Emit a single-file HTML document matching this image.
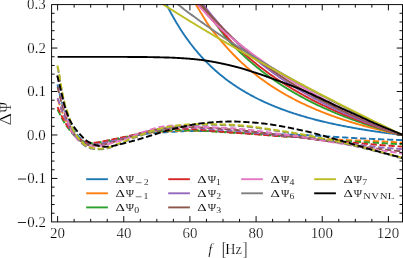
<!DOCTYPE html>
<html><head><meta charset="utf-8"><title>plot</title>
<style>
html,body{margin:0;padding:0;background:#fff;}
body{width:403px;height:258px;position:relative;overflow:hidden;font-family:"Liberation Serif",serif;color:#000;}
svg{display:block}
text{font-family:"Liberation Serif",serif;}
</style></head><body>
<svg width="403" height="258" viewBox="0 0 403 258" style="position:absolute;left:0;top:0">
<defs><clipPath id="ax"><rect x="51.6" y="4.6" width="350.9" height="217.3"/></clipPath></defs>
<rect x="0" y="0" width="403" height="258" fill="#fff"/>
<g clip-path="url(#ax)" fill="none" stroke-linejoin="round" stroke-width="1.90">
<path d="M148.6,-38.89 149.6,-36.03 150.6,-33.23 151.6,-30.49 152.6,-27.81 153.6,-25.18 154.6,-22.60 155.6,-20.08 156.6,-17.61 157.6,-15.18 158.6,-12.81 159.6,-10.48 160.6,-8.20 161.6,-5.96 162.6,-3.76 163.6,-1.61 164.6,0.50 165.6,2.57 166.6,4.60 167.6,6.59 168.6,8.55 169.6,10.47 170.6,12.35 171.6,14.20 172.6,16.02 173.6,17.80 174.6,19.55 175.6,21.27 176.6,22.95 177.6,24.61 178.6,26.24 179.6,27.84 180.6,29.41 181.6,30.95 182.6,32.47 183.6,33.96 184.6,35.42 185.6,36.86 186.6,38.28 187.6,39.67 188.6,41.04 189.6,42.38 190.6,43.70 191.6,45.01 192.6,46.28 193.6,47.54 194.6,48.78 195.6,50.00 196.6,51.19 197.6,52.37 198.6,53.53 199.6,54.67 200.6,55.80 201.6,56.90 202.6,57.99 203.6,59.06 204.6,60.11 205.6,61.15 206.6,62.17 207.6,63.18 208.6,64.17 209.6,65.14 210.6,66.10 211.6,67.05 212.6,67.98 213.6,68.90 214.6,69.80 215.6,70.70 216.6,71.57 217.6,72.44 218.6,73.29 219.6,74.13 220.6,74.96 221.6,75.77 222.6,76.58 223.6,77.37 224.6,78.15 225.6,78.92 226.6,79.68 227.6,80.43 228.6,81.17 229.6,81.89 230.6,82.61 231.6,83.32 232.6,84.02 233.6,84.70 234.6,85.38 235.6,86.05 236.6,86.71 237.6,87.37 238.6,88.01 239.6,88.64 240.6,89.27 241.6,89.89 242.6,90.49 243.6,91.10 244.6,91.69 245.6,92.27 246.6,92.85 247.6,93.42 248.6,93.99 249.6,94.54 250.6,95.09 251.6,95.63 252.6,96.17 253.6,96.70 254.6,97.22 255.6,97.73 256.6,98.24 257.6,98.74 258.6,99.24 259.6,99.73 260.6,100.21 261.6,100.69 262.6,101.16 263.6,101.63 264.6,102.09 265.6,102.54 266.6,102.99 267.6,103.43 268.6,103.87 269.6,104.31 270.6,104.73 271.6,105.16 272.6,105.57 273.6,105.99 274.6,106.40 275.6,106.80 276.6,107.20 277.6,107.59 278.6,107.98 279.6,108.37 280.6,108.75 281.6,109.12 282.6,109.50 283.6,109.86 284.6,110.23 285.6,110.59 286.6,110.94 287.6,111.29 288.6,111.64 289.6,111.98 290.6,112.32 291.6,112.66 292.6,112.99 293.6,113.32 294.6,113.65 295.6,113.97 296.6,114.28 297.6,114.60 298.6,114.91 299.6,115.22 300.6,115.52 301.6,115.82 302.6,116.12 303.6,116.42 304.6,116.71 305.6,117.00 306.6,117.28 307.6,117.56 308.6,117.84 309.6,118.12 310.6,118.39 311.6,118.67 312.6,118.93 313.6,119.20 314.6,119.46 315.6,119.72 316.6,119.98 317.6,120.23 318.6,120.49 319.6,120.73 320.6,120.98 321.6,121.23 322.6,121.47 323.6,121.71 324.6,121.94 325.6,122.18 326.6,122.41 327.6,122.64 328.6,122.87 329.6,123.10 330.6,123.32 331.6,123.54 332.6,123.76 333.6,123.98 334.6,124.19 335.6,124.40 336.6,124.62 337.6,124.82 338.6,125.03 339.6,125.24 340.6,125.44 341.6,125.64 342.6,125.84 343.6,126.04 344.6,126.23 345.6,126.42 346.6,126.62 347.6,126.81 348.6,126.99 349.6,127.18 350.6,127.36 351.6,127.55 352.6,127.73 353.6,127.91 354.6,128.09 355.6,128.26 356.6,128.44 357.6,128.61 358.6,128.78 359.6,128.95 360.6,129.12 361.6,129.29 362.6,129.45 363.6,129.62 364.6,129.78 365.6,129.94 366.6,130.10 367.6,130.26 368.6,130.41 369.6,130.57 370.6,130.72 371.6,130.88 372.6,131.03 373.6,131.18 374.6,131.33 375.6,131.47 376.6,131.62 377.6,131.76 378.6,131.91 379.6,132.05 380.6,132.19 381.6,132.33 382.6,132.47 383.6,132.61 384.6,132.74 385.6,132.88 386.6,133.01 387.6,133.15 388.6,133.28 389.6,133.41 390.6,133.54 391.6,133.67 392.6,133.80 393.6,133.92 394.6,134.05 395.6,134.17 396.6,134.30 397.6,134.42 398.6,134.54 399.6,134.66 400.6,134.78 401.6,134.90" stroke="#1f77b4"/>
<path d="M174.6,-39.04 175.6,-36.65 176.6,-34.30 177.6,-31.98 178.6,-29.71 179.6,-27.47 180.6,-25.27 181.6,-23.10 182.6,-20.97 183.6,-18.87 184.6,-16.81 185.6,-14.78 186.6,-12.77 187.6,-10.80 188.6,-8.86 189.6,-6.95 190.6,-5.07 191.6,-3.22 192.6,-1.40 193.6,0.40 194.6,2.17 195.6,3.91 196.6,5.63 197.6,7.32 198.6,8.99 199.6,10.63 200.5,12.25 201.5,13.84 202.5,15.41 203.4,16.96 204.4,18.49 205.3,20.00 206.2,21.48 207.1,22.94 208.1,24.39 209.0,25.81 210.0,27.21 211.0,28.60 212.0,29.96 213.1,31.31 214.1,32.63 215.2,33.94 216.2,35.24 217.3,36.51 218.4,37.77 219.4,39.01 220.5,40.23 221.5,41.44 222.5,42.63 223.6,43.81 224.6,44.97 225.6,46.11 226.6,47.24 227.6,48.36 228.6,49.46 229.6,50.55 230.6,51.62 231.6,52.68 232.6,53.73 233.6,54.76 234.6,55.78 235.6,56.79 236.6,57.79 237.6,58.77 238.6,59.74 239.6,60.70 240.6,61.65 241.6,62.58 242.6,63.51 243.6,64.42 244.6,65.32 245.6,66.22 246.6,67.10 247.6,67.97 248.6,68.83 249.6,69.68 250.6,70.52 251.6,71.35 252.6,72.17 253.6,72.98 254.6,73.78 255.6,74.57 256.6,75.36 257.6,76.13 258.6,76.89 259.6,77.65 260.6,78.40 261.6,79.14 262.6,79.87 263.6,80.59 264.6,81.31 265.6,82.02 266.6,82.71 267.6,83.41 268.6,84.09 269.6,84.77 270.6,85.44 271.6,86.10 272.6,86.75 273.6,87.40 274.6,88.04 275.6,88.67 276.6,89.30 277.6,89.92 278.6,90.53 279.6,91.14 280.6,91.74 281.6,92.34 282.6,92.92 283.6,93.51 284.6,94.08 285.6,94.65 286.6,95.22 287.6,95.78 288.6,96.33 289.6,96.87 290.6,97.42 291.6,97.95 292.6,98.48 293.6,99.01 294.6,99.53 295.6,100.04 296.6,100.55 297.6,101.06 298.6,101.56 299.6,102.05 300.6,102.54 301.6,103.02 302.6,103.50 303.6,103.98 304.6,104.45 305.6,104.92 306.6,105.38 307.6,105.84 308.6,106.29 309.6,106.74 310.6,107.18 311.6,107.62 312.6,108.06 313.6,108.49 314.6,108.92 315.6,109.34 316.6,109.76 317.6,110.17 318.6,110.59 319.6,110.99 320.6,111.40 321.6,111.80 322.6,112.19 323.6,112.59 324.6,112.98 325.6,113.36 326.6,113.75 327.6,114.12 328.6,114.50 329.6,114.87 330.6,115.24 331.6,115.61 332.6,115.97 333.6,116.33 334.6,116.68 335.6,117.04 336.6,117.39 337.6,117.73 338.6,118.08 339.6,118.42 340.6,118.75 341.6,119.09 342.6,119.42 343.6,119.75 344.6,120.07 345.6,120.40 346.6,120.72 347.6,121.04 348.6,121.35 349.6,121.66 350.6,121.97 351.6,122.28 352.6,122.58 353.6,122.89 354.6,123.18 355.6,123.48 356.6,123.78 357.6,124.07 358.6,124.36 359.6,124.64 360.6,124.93 361.6,125.21 362.6,125.49 363.6,125.77 364.6,126.04 365.6,126.32 366.6,126.59 367.6,126.86 368.6,127.12 369.6,127.39 370.6,127.65 371.6,127.91 372.6,128.17 373.6,128.42 374.6,128.68 375.6,128.93 376.6,129.18 377.6,129.43 378.6,129.67 379.6,129.92 380.6,130.16 381.6,130.40 382.6,130.64 383.6,130.87 384.6,131.11 385.6,131.34 386.6,131.57 387.6,131.80 388.6,132.03 389.6,132.26 390.6,132.48 391.6,132.70 392.6,132.92 393.6,133.14 394.6,133.36 395.6,133.58 396.6,133.79 397.6,134.00 398.6,134.21 399.6,134.42 400.6,134.63 401.6,134.84" stroke="#ff7f0e"/>
<path d="M176.6,-38.19 177.6,-36.13 178.6,-34.09 179.6,-32.08 180.6,-30.10 181.6,-28.14 182.6,-26.22 183.6,-24.31 184.6,-22.44 185.6,-20.59 186.6,-18.76 187.6,-16.96 188.6,-15.18 189.6,-13.43 190.6,-11.70 191.6,-9.99 192.7,-8.30 193.7,-6.63 194.8,-4.99 195.9,-3.37 197.0,-1.76 198.1,-0.18 199.2,1.38 200.2,2.92 201.2,4.45 202.2,5.95 203.1,7.44 204.1,8.91 205.1,10.36 206.1,11.79 207.2,13.21 208.3,14.60 209.4,15.99 210.5,17.35 211.6,18.70 212.7,20.03 213.8,21.35 214.8,22.65 215.8,23.94 216.7,25.21 217.7,26.47 218.6,27.71 219.4,28.94 220.3,30.15 221.2,31.35 222.1,32.54 223.0,33.71 223.9,34.87 224.8,36.02 225.8,37.15 226.7,38.28 227.7,39.39 228.7,40.48 229.6,41.57 230.6,42.64 231.6,43.71 232.6,44.76 233.6,45.80 234.6,46.82 235.6,47.84 236.6,48.85 237.6,49.84 238.6,50.83 239.6,51.80 240.6,52.77 241.6,53.72 242.6,54.67 243.6,55.60 244.6,56.53 245.6,57.44 246.6,58.35 247.6,59.25 248.6,60.14 249.6,61.02 250.6,61.89 251.6,62.75 252.6,63.60 253.6,64.45 254.6,65.28 255.6,66.11 256.6,66.93 257.6,67.74 258.6,68.55 259.6,69.34 260.6,70.13 261.6,70.91 262.6,71.69 263.6,72.45 264.6,73.21 265.6,73.96 266.6,74.71 267.6,75.45 268.6,76.18 269.6,76.90 270.6,77.62 271.6,78.33 272.6,79.03 273.6,79.73 274.6,80.42 275.6,81.10 276.6,81.78 277.6,82.45 278.6,83.12 279.6,83.78 280.6,84.43 281.6,85.08 282.6,85.73 283.6,86.36 284.6,86.99 285.6,87.62 286.6,88.24 287.6,88.85 288.6,89.46 289.6,90.07 290.6,90.66 291.6,91.26 292.6,91.85 293.6,92.43 294.6,93.01 295.6,93.58 296.6,94.15 297.6,94.71 298.6,95.27 299.6,95.82 300.6,96.37 301.6,96.92 302.6,97.46 303.6,97.99 304.6,98.53 305.6,99.05 306.6,99.57 307.6,100.09 308.6,100.61 309.6,101.12 310.6,101.62 311.6,102.12 312.6,102.62 313.6,103.11 314.6,103.60 315.6,104.09 316.6,104.57 317.6,105.05 318.6,105.52 319.6,105.99 320.6,106.46 321.6,106.92 322.6,107.38 323.6,107.84 324.6,108.29 325.6,108.74 326.6,109.18 327.6,109.62 328.6,110.06 329.6,110.49 330.6,110.93 331.6,111.35 332.6,111.78 333.6,112.20 334.6,112.62 335.6,113.03 336.6,113.45 337.6,113.85 338.6,114.26 339.6,114.66 340.6,115.06 341.6,115.46 342.6,115.85 343.6,116.24 344.6,116.63 345.6,117.02 346.6,117.40 347.6,117.78 348.6,118.16 349.6,118.53 350.6,118.90 351.6,119.27 352.6,119.64 353.6,120.00 354.6,120.36 355.6,120.72 356.6,121.08 357.6,121.43 358.6,121.78 359.6,122.13 360.6,122.47 361.6,122.82 362.6,123.16 363.6,123.50 364.6,123.83 365.6,124.17 366.6,124.50 367.6,124.83 368.6,125.15 369.6,125.48 370.6,125.80 371.6,126.12 372.6,126.44 373.6,126.76 374.6,127.07 375.6,127.38 376.6,127.69 377.6,128.00 378.6,128.30 379.6,128.61 380.6,128.91 381.6,129.21 382.6,129.50 383.6,129.80 384.6,130.09 385.6,130.38 386.6,130.67 387.6,130.96 388.6,131.25 389.6,131.53 390.6,131.81 391.6,132.09 392.6,132.37 393.6,132.65 394.6,132.92 395.6,133.20 396.6,133.47 397.6,133.74 398.6,134.00 399.6,134.27 400.6,134.53 401.6,134.80" stroke="#2ca02c"/>
<path d="M172.6,-39.64 173.6,-37.76 174.6,-35.89 175.6,-34.05 176.6,-32.23 177.6,-30.43 178.6,-28.65 179.6,-26.90 180.6,-25.17 181.6,-23.45 182.6,-21.76 183.6,-20.09 184.6,-18.44 185.6,-16.81 186.6,-15.19 187.6,-13.60 188.5,-12.02 189.5,-10.46 190.4,-8.92 191.3,-7.40 192.1,-5.89 193.0,-4.40 193.8,-2.93 194.7,-1.48 195.5,-0.04 196.4,1.39 197.4,2.79 198.4,4.19 199.5,5.56 200.6,6.92 201.8,8.27 202.9,9.60 204.1,10.92 205.3,12.23 206.4,13.52 207.6,14.80 208.7,16.06 209.8,17.31 210.9,18.55 212.1,19.77 213.2,20.99 214.3,22.18 215.3,23.37 216.4,24.55 217.4,25.71 218.4,26.86 219.4,28.00 220.3,29.13 221.2,30.25 222.2,31.36 223.1,32.45 224.0,33.54 224.9,34.61 225.9,35.67 226.8,36.73 227.7,37.77 228.7,38.80 229.7,39.83 230.7,40.84 231.6,41.84 232.6,42.84 233.6,43.82 234.6,44.80 235.6,45.77 236.6,46.72 237.6,47.67 238.6,48.61 239.6,49.54 240.6,50.47 241.6,51.38 242.6,52.29 243.6,53.19 244.6,54.08 245.6,54.96 246.6,55.83 247.6,56.70 248.6,57.56 249.6,58.41 250.6,59.25 251.6,60.09 252.6,60.92 253.6,61.74 254.6,62.55 255.6,63.36 256.6,64.16 257.6,64.95 258.6,65.74 259.6,66.52 260.6,67.29 261.6,68.06 262.6,68.82 263.6,69.58 264.6,70.32 265.6,71.07 266.6,71.80 267.6,72.53 268.6,73.25 269.6,73.97 270.6,74.68 271.6,75.39 272.6,76.09 273.6,76.78 274.6,77.47 275.6,78.16 276.6,78.83 277.6,79.51 278.6,80.17 279.6,80.83 280.6,81.49 281.6,82.14 282.6,82.79 283.6,83.43 284.6,84.07 285.6,84.70 286.6,85.32 287.6,85.95 288.6,86.56 289.6,87.18 290.6,87.78 291.6,88.39 292.6,88.98 293.6,89.58 294.6,90.17 295.6,90.75 296.6,91.33 297.6,91.91 298.6,92.48 299.6,93.05 300.6,93.61 301.6,94.17 302.6,94.73 303.6,95.28 304.6,95.83 305.6,96.37 306.6,96.91 307.6,97.44 308.6,97.98 309.6,98.50 310.6,99.03 311.6,99.55 312.6,100.06 313.6,100.58 314.6,101.09 315.6,101.59 316.6,102.09 317.6,102.59 318.6,103.09 319.6,103.58 320.6,104.07 321.6,104.55 322.6,105.03 323.6,105.51 324.6,105.99 325.6,106.46 326.6,106.93 327.6,107.39 328.6,107.86 329.6,108.31 330.6,108.77 331.6,109.22 332.6,109.67 333.6,110.12 334.6,110.56 335.6,111.01 336.6,111.44 337.6,111.88 338.6,112.31 339.6,112.74 340.6,113.17 341.6,113.59 342.6,114.01 343.6,114.43 344.6,114.85 345.6,115.26 346.6,115.67 347.6,116.08 348.6,116.48 349.6,116.89 350.6,117.29 351.6,117.68 352.6,118.08 353.6,118.47 354.6,118.86 355.6,119.25 356.6,119.63 357.6,120.02 358.6,120.40 359.6,120.78 360.6,121.15 361.6,121.52 362.6,121.90 363.6,122.26 364.6,122.63 365.6,123.00 366.6,123.36 367.6,123.72 368.6,124.08 369.6,124.43 370.6,124.78 371.6,125.14 372.6,125.49 373.6,125.83 374.6,126.18 375.6,126.52 376.6,126.86 377.6,127.20 378.6,127.54 379.6,127.87 380.6,128.21 381.6,128.54 382.6,128.87 383.6,129.19 384.6,129.52 385.6,129.84 386.6,130.16 387.6,130.48 388.6,130.80 389.6,131.12 390.6,131.43 391.6,131.74 392.6,132.06 393.6,132.36 394.6,132.67 395.6,132.98 396.6,133.28 397.6,133.58 398.6,133.88 399.6,134.18 400.6,134.48 401.6,134.77" stroke="#d62728"/>
<path d="M175.6,-38.22 176.6,-36.44 177.6,-34.67 178.6,-32.93 179.6,-31.21 180.6,-29.50 181.6,-27.82 182.6,-26.16 183.6,-24.51 184.6,-22.88 185.6,-21.27 186.6,-19.68 187.6,-18.11 188.6,-16.55 189.6,-15.01 190.6,-13.48 191.6,-11.97 192.6,-10.48 193.6,-9.01 194.6,-7.55 195.6,-6.10 196.6,-4.67 197.6,-3.26 198.6,-1.86 199.6,-0.47 200.6,0.90 201.6,2.26 202.6,3.60 203.6,4.93 204.6,6.25 205.6,7.55 206.6,8.84 207.6,10.12 208.6,11.38 209.6,12.64 210.6,13.88 211.6,15.11 212.6,16.32 213.6,17.53 214.6,18.72 215.6,19.90 216.6,21.07 217.6,22.23 218.6,23.38 219.6,24.52 220.6,25.64 221.6,26.76 222.6,27.87 223.6,28.96 224.6,30.05 225.6,31.12 226.6,32.19 227.6,33.24 228.6,34.29 229.6,35.33 230.6,36.36 231.6,37.37 232.6,38.38 233.6,39.38 234.6,40.38 235.6,41.36 236.6,42.33 237.6,43.30 238.6,44.26 239.6,45.21 240.6,46.15 241.6,47.08 242.6,48.00 243.6,48.92 244.6,49.83 245.6,50.73 246.6,51.63 247.6,52.51 248.6,53.39 249.6,54.26 250.6,55.13 251.6,55.99 252.6,56.84 253.6,57.68 254.6,58.52 255.6,59.35 256.6,60.17 257.6,60.99 258.6,61.80 259.6,62.60 260.6,63.40 261.6,64.19 262.6,64.97 263.6,65.75 264.6,66.52 265.6,67.29 266.6,68.05 267.6,68.80 268.6,69.55 269.6,70.29 270.6,71.03 271.6,71.76 272.6,72.49 273.6,73.21 274.6,73.92 275.6,74.63 276.6,75.33 277.6,76.03 278.6,76.72 279.6,77.41 280.6,78.10 281.6,78.77 282.6,79.45 283.6,80.12 284.6,80.78 285.6,81.44 286.6,82.09 287.6,82.74 288.6,83.38 289.6,84.02 290.6,84.66 291.6,85.29 292.6,85.91 293.6,86.53 294.6,87.15 295.6,87.76 296.6,88.37 297.6,88.98 298.6,89.58 299.6,90.17 300.6,90.76 301.6,91.35 302.6,91.93 303.6,92.51 304.6,93.09 305.6,93.66 306.6,94.23 307.6,94.79 308.6,95.35 309.6,95.91 310.6,96.46 311.6,97.01 312.6,97.55 313.6,98.10 314.6,98.63 315.6,99.17 316.6,99.70 317.6,100.22 318.6,100.75 319.6,101.27 320.6,101.79 321.6,102.30 322.6,102.81 323.6,103.32 324.6,103.82 325.6,104.32 326.6,104.82 327.6,105.31 328.6,105.80 329.6,106.29 330.6,106.77 331.6,107.26 332.6,107.73 333.6,108.21 334.6,108.68 335.6,109.15 336.6,109.62 337.6,110.08 338.6,110.54 339.6,111.00 340.6,111.46 341.6,111.91 342.6,112.36 343.6,112.81 344.6,113.25 345.6,113.69 346.6,114.13 347.6,114.57 348.6,115.00 349.6,115.43 350.6,115.86 351.6,116.29 352.6,116.71 353.6,117.13 354.6,117.55 355.6,117.97 356.6,118.38 357.6,118.79 358.6,119.20 359.6,119.60 360.6,120.01 361.6,120.41 362.6,120.81 363.6,121.21 364.6,121.60 365.6,121.99 366.6,122.38 367.6,122.77 368.6,123.16 369.6,123.54 370.6,123.92 371.6,124.30 372.6,124.68 373.6,125.05 374.6,125.43 375.6,125.80 376.6,126.16 377.6,126.53 378.6,126.90 379.6,127.26 380.6,127.62 381.6,127.98 382.6,128.33 383.6,128.69 384.6,129.04 385.6,129.39 386.6,129.74 387.6,130.09 388.6,130.43 389.6,130.78 390.6,131.12 391.6,131.46 392.6,131.80 393.6,132.13 394.6,132.47 395.6,132.80 396.6,133.13 397.6,133.46 398.6,133.78 399.6,134.11 400.6,134.43 401.6,134.76" stroke="#9467bd"/>
<path d="M170.6,-38.88 171.6,-37.26 172.6,-35.65 173.6,-34.06 174.6,-32.49 175.6,-30.93 176.6,-29.39 177.6,-27.86 178.6,-26.35 179.6,-24.85 180.6,-23.37 181.6,-21.90 182.6,-20.45 183.6,-19.01 184.6,-17.58 185.6,-16.17 186.6,-14.77 187.6,-13.39 188.6,-12.02 189.6,-10.66 190.6,-9.31 191.6,-7.97 192.6,-6.65 193.6,-5.34 194.6,-4.04 195.6,-2.76 196.6,-1.48 197.6,-0.22 198.6,1.03 199.6,2.27 200.6,3.50 201.6,4.72 202.6,5.93 203.6,7.13 204.6,8.31 205.6,9.49 206.6,10.66 207.6,11.82 208.6,12.96 209.6,14.10 210.6,15.23 211.6,16.35 212.6,17.45 213.6,18.55 214.6,19.64 215.6,20.73 216.6,21.80 217.6,22.86 218.6,23.92 219.6,24.96 220.6,26.00 221.6,27.03 222.6,28.05 223.6,29.07 224.6,30.07 225.6,31.07 226.6,32.06 227.6,33.04 228.6,34.01 229.6,34.98 230.6,35.94 231.6,36.89 232.6,37.84 233.6,38.77 234.6,39.70 235.6,40.62 236.6,41.54 237.6,42.45 238.6,43.35 239.6,44.25 240.6,45.14 241.6,46.02 242.6,46.89 243.6,47.76 244.6,48.63 245.6,49.48 246.6,50.33 247.6,51.18 248.6,52.01 249.6,52.85 250.6,53.67 251.6,54.49 252.6,55.31 253.6,56.12 254.6,56.92 255.6,57.72 256.6,58.51 257.6,59.30 258.6,60.08 259.6,60.85 260.6,61.62 261.6,62.39 262.6,63.15 263.6,63.90 264.6,64.65 265.6,65.39 266.6,66.13 267.6,66.87 268.6,67.60 269.6,68.32 270.6,69.04 271.6,69.76 272.6,70.47 273.6,71.17 274.6,71.87 275.6,72.57 276.6,73.26 277.6,73.95 278.6,74.63 279.6,75.31 280.6,75.98 281.6,76.65 282.6,77.32 283.6,77.98 284.6,78.64 285.6,79.29 286.6,79.94 287.6,80.59 288.6,81.23 289.6,81.86 290.6,82.50 291.6,83.13 292.6,83.75 293.6,84.37 294.6,84.99 295.6,85.60 296.6,86.21 297.6,86.82 298.6,87.42 299.6,88.02 300.6,88.62 301.6,89.21 302.6,89.80 303.6,90.38 304.6,90.96 305.6,91.54 306.6,92.12 307.6,92.69 308.6,93.26 309.6,93.82 310.6,94.38 311.6,94.94 312.6,95.50 313.6,96.05 314.6,96.60 315.6,97.14 316.6,97.68 317.6,98.22 318.6,98.76 319.6,99.29 320.6,99.82 321.6,100.35 322.6,100.87 323.6,101.40 324.6,101.91 325.6,102.43 326.6,102.94 327.6,103.45 328.6,103.96 329.6,104.46 330.6,104.97 331.6,105.46 332.6,105.96 333.6,106.45 334.6,106.94 335.6,107.43 336.6,107.92 337.6,108.40 338.6,108.88 339.6,109.36 340.6,109.83 341.6,110.31 342.6,110.78 343.6,111.24 344.6,111.71 345.6,112.17 346.6,112.63 347.6,113.09 348.6,113.55 349.6,114.00 350.6,114.45 351.6,114.90 352.6,115.35 353.6,115.79 354.6,116.23 355.6,116.67 356.6,117.11 357.6,117.54 358.6,117.98 359.6,118.41 360.6,118.84 361.6,119.26 362.6,119.69 363.6,120.11 364.6,120.53 365.6,120.95 366.6,121.36 367.6,121.78 368.6,122.19 369.6,122.60 370.6,123.01 371.6,123.41 372.6,123.82 373.6,124.22 374.6,124.62 375.6,125.02 376.6,125.41 377.6,125.81 378.6,126.20 379.6,126.59 380.6,126.98 381.6,127.37 382.6,127.75 383.6,128.13 384.6,128.52 385.6,128.89 386.6,129.27 387.6,129.65 388.6,130.02 389.6,130.40 390.6,130.77 391.6,131.14 392.6,131.50 393.6,131.87 394.6,132.23 395.6,132.59 396.6,132.96 397.6,133.31 398.6,133.67 399.6,134.03 400.6,134.38 401.6,134.73" stroke="#8c564b"/>
<path d="M161.6,-39.96 162.6,-38.54 163.6,-37.14 164.6,-35.75 165.6,-34.38 166.6,-33.01 167.6,-31.66 168.6,-30.31 169.6,-28.98 170.6,-27.66 171.6,-26.35 172.6,-25.05 173.6,-23.76 174.6,-22.48 175.6,-21.21 176.6,-19.95 177.6,-18.70 178.6,-17.46 179.6,-16.23 180.6,-15.01 181.6,-13.80 182.6,-12.60 183.6,-11.41 184.6,-10.23 185.6,-9.05 186.6,-7.89 187.6,-6.73 188.6,-5.58 189.6,-4.44 190.6,-3.31 191.6,-2.19 192.6,-1.07 193.6,0.04 194.6,1.14 195.6,2.23 196.6,3.31 197.5,4.39 198.5,5.45 199.5,6.51 200.5,7.57 201.5,8.61 202.4,9.65 203.4,10.68 204.3,11.71 205.3,12.73 206.2,13.74 207.1,14.74 208.1,15.74 209.0,16.73 209.9,17.71 210.8,18.69 211.7,19.66 212.6,20.62 213.6,21.58 214.5,22.53 215.4,23.48 216.3,24.42 217.3,25.35 218.2,26.28 219.2,27.20 220.1,28.12 221.1,29.03 222.1,29.93 223.1,30.83 224.1,31.72 225.2,32.61 226.2,33.49 227.2,34.37 228.3,35.24 229.4,36.10 230.4,36.96 231.5,37.82 232.6,38.67 233.7,39.51 234.7,40.35 235.8,41.19 236.9,42.02 238.0,42.84 239.0,43.66 240.1,44.48 241.1,45.29 242.2,46.10 243.3,46.90 244.3,47.69 245.3,48.49 246.4,49.27 247.4,50.06 248.4,50.84 249.5,51.61 250.5,52.38 251.5,53.14 252.5,53.91 253.5,54.66 254.5,55.42 255.6,56.16 256.6,56.91 257.6,57.65 258.6,58.38 259.6,59.12 260.6,59.85 261.6,60.57 262.6,61.29 263.6,62.01 264.6,62.72 265.6,63.43 266.6,64.13 267.6,64.83 268.6,65.53 269.6,66.23 270.6,66.92 271.6,67.60 272.6,68.29 273.6,68.97 274.6,69.64 275.6,70.32 276.6,70.98 277.6,71.65 278.6,72.31 279.6,72.97 280.6,73.63 281.6,74.28 282.6,74.93 283.6,75.58 284.6,76.22 285.6,76.86 286.6,77.49 287.6,78.13 288.6,78.76 289.6,79.38 290.6,80.01 291.6,80.63 292.6,81.25 293.6,81.86 294.6,82.47 295.6,83.08 296.6,83.69 297.6,84.29 298.6,84.89 299.6,85.49 300.6,86.09 301.6,86.68 302.6,87.27 303.6,87.85 304.6,88.44 305.6,89.02 306.6,89.60 307.6,90.17 308.6,90.74 309.6,91.31 310.6,91.88 311.6,92.45 312.6,93.01 313.6,93.57 314.6,94.13 315.6,94.68 316.6,95.23 317.6,95.78 318.6,96.33 319.6,96.88 320.6,97.42 321.6,97.96 322.6,98.50 323.6,99.03 324.6,99.57 325.6,100.10 326.6,100.62 327.6,101.15 328.6,101.67 329.6,102.20 330.6,102.72 331.6,103.23 332.6,103.75 333.6,104.26 334.6,104.77 335.6,105.28 336.6,105.79 337.6,106.29 338.6,106.79 339.6,107.29 340.6,107.79 341.6,108.28 342.6,108.78 343.6,109.27 344.6,109.76 345.6,110.25 346.6,110.73 347.6,111.22 348.6,111.70 349.6,112.18 350.6,112.65 351.6,113.13 352.6,113.60 353.6,114.08 354.6,114.55 355.6,115.01 356.6,115.48 357.6,115.94 358.6,116.41 359.6,116.87 360.6,117.33 361.6,117.78 362.6,118.24 363.6,118.69 364.6,119.14 365.6,119.59 366.6,120.04 367.6,120.49 368.6,120.93 369.6,121.38 370.6,121.82 371.6,122.26 372.6,122.69 373.6,123.13 374.6,123.57 375.6,124.00 376.6,124.43 377.6,124.86 378.6,125.29 379.6,125.71 380.6,126.14 381.6,126.56 382.6,126.98 383.6,127.40 384.6,127.82 385.6,128.24 386.6,128.65 387.6,129.07 388.6,129.48 389.6,129.89 390.6,130.30 391.6,130.71 392.6,131.11 393.6,131.52 394.6,131.92 395.6,132.32 396.6,132.72 397.6,133.12 398.6,133.52 399.6,133.92 400.6,134.31 401.6,134.71" stroke="#e377c2"/>
<path d="M126.6,-39.52 127.6,-38.56 128.6,-37.61 129.6,-36.66 130.6,-35.72 131.6,-34.78 132.6,-33.84 133.6,-32.91 134.6,-31.99 135.6,-31.07 136.6,-30.15 137.6,-29.24 138.6,-28.33 139.6,-27.42 140.6,-26.52 141.6,-25.63 142.6,-24.74 143.6,-23.85 144.6,-22.96 145.6,-22.08 146.6,-21.21 147.6,-20.33 148.6,-19.46 149.6,-18.60 150.6,-17.73 151.6,-16.88 152.6,-16.02 153.6,-15.17 154.6,-14.32 155.6,-13.48 156.6,-12.64 157.6,-11.80 158.6,-10.96 159.6,-10.13 160.6,-9.31 161.6,-8.48 162.6,-7.66 163.6,-6.84 164.6,-6.03 165.6,-5.22 166.6,-4.41 167.6,-3.60 168.6,-2.80 169.6,-2.00 170.6,-1.20 171.6,-0.41 172.6,0.38 173.6,1.17 174.6,1.95 175.6,2.73 176.6,3.51 177.6,4.29 178.6,5.06 179.6,5.83 180.6,6.60 181.6,7.37 182.6,8.13 183.6,8.89 184.6,9.65 185.6,10.40 186.6,11.16 187.6,11.90 188.6,12.65 189.6,13.40 190.6,14.14 191.6,14.88 192.6,15.62 193.6,16.35 194.6,17.08 195.6,17.81 196.6,18.54 197.6,19.26 198.6,19.99 199.6,20.71 200.6,21.43 201.6,22.14 202.6,22.86 203.6,23.57 204.6,24.28 205.6,24.98 206.6,25.69 207.6,26.39 208.6,27.09 209.6,27.79 210.6,28.49 211.6,29.18 212.6,29.87 213.6,30.56 214.6,31.25 215.6,31.93 216.6,32.62 217.6,33.30 218.6,33.98 219.6,34.66 220.6,35.33 221.6,36.01 222.6,36.68 223.6,37.35 224.6,38.02 225.6,38.68 226.6,39.35 227.6,40.01 228.6,40.67 229.6,41.33 230.6,41.98 231.6,42.64 232.6,43.29 233.6,43.94 234.6,44.59 235.6,45.24 236.6,45.89 237.6,46.53 238.6,47.17 239.6,47.81 240.6,48.45 241.6,49.09 242.6,49.72 243.6,50.36 244.6,50.99 245.6,51.62 246.6,52.25 247.6,52.88 248.6,53.50 249.6,54.13 250.6,54.75 251.6,55.37 252.6,55.99 253.6,56.61 254.6,57.22 255.6,57.84 256.6,58.45 257.6,59.06 258.6,59.67 259.6,60.28 260.6,60.89 261.6,61.49 262.6,62.10 263.6,62.70 264.6,63.30 265.6,63.90 266.6,64.50 267.6,65.09 268.6,65.69 269.6,66.28 270.6,66.87 271.6,67.46 272.6,68.05 273.6,68.64 274.6,69.23 275.6,69.81 276.6,70.40 277.6,70.98 278.6,71.56 279.6,72.14 280.6,72.72 281.6,73.30 282.6,73.87 283.6,74.45 284.6,75.02 285.6,75.59 286.6,76.16 287.6,76.73 288.6,77.30 289.6,77.87 290.6,78.43 291.6,79.00 292.6,79.56 293.6,80.12 294.6,80.68 295.6,81.24 296.6,81.80 297.6,82.35 298.6,82.91 299.6,83.46 300.6,84.02 301.6,84.57 302.6,85.12 303.6,85.67 304.6,86.22 305.6,86.77 306.6,87.31 307.6,87.86 308.6,88.40 309.6,88.94 310.6,89.48 311.6,90.03 312.6,90.56 313.6,91.10 314.6,91.64 315.6,92.18 316.6,92.71 317.6,93.24 318.6,93.78 319.6,94.31 320.6,94.84 321.6,95.37 322.6,95.90 323.6,96.42 324.6,96.95 325.6,97.48 326.6,98.00 327.6,98.52 328.6,99.05 329.6,99.57 330.6,100.09 331.6,100.61 332.6,101.12 333.6,101.64 334.6,102.16 335.6,102.67 336.6,103.18 337.6,103.70 338.6,104.21 339.6,104.72 340.6,105.23 341.6,105.74 342.6,106.25 343.6,106.76 344.6,107.26 345.6,107.77 346.6,108.27 347.6,108.77 348.6,109.28 349.6,109.78 350.6,110.28 351.6,110.78 352.6,111.28 353.6,111.77 354.6,112.27 355.6,112.77 356.6,113.26 357.6,113.76 358.6,114.25 359.6,114.74 360.6,115.23 361.6,115.72 362.6,116.21 363.6,116.70 364.6,117.19 365.6,117.68 366.6,118.16 367.6,118.65 368.6,119.13 369.6,119.62 370.6,120.10 371.6,120.58 372.6,121.06 373.6,121.54 374.6,122.02 375.6,122.50 376.6,122.98 377.6,123.45 378.6,123.93 379.6,124.41 380.6,124.88 381.6,125.35 382.6,125.83 383.6,126.30 384.6,126.77 385.6,127.24 386.6,127.71 387.6,128.18 388.6,128.65 389.6,129.11 390.6,129.58 391.6,130.05 392.6,130.51 393.6,130.97 394.6,131.44 395.6,131.90 396.6,132.36 397.6,132.82 398.6,133.28 399.6,133.74 400.6,134.20 401.6,134.66" stroke="#7f7f7f"/>
<path d="M99.6,-39.52 100.6,-38.77 101.6,-38.03 102.6,-37.28 103.6,-36.54 104.6,-35.80 105.6,-35.07 106.6,-34.33 107.6,-33.60 108.6,-32.87 109.6,-32.14 110.6,-31.41 111.6,-30.68 112.6,-29.96 113.6,-29.24 114.6,-28.52 115.6,-27.80 116.6,-27.09 117.6,-26.38 118.6,-25.67 119.6,-24.96 120.6,-24.25 121.6,-23.54 122.6,-22.84 123.6,-22.14 124.6,-21.44 125.6,-20.74 126.6,-20.04 127.6,-19.34 128.6,-18.65 129.6,-17.96 130.6,-17.27 131.6,-16.58 132.6,-15.89 133.6,-15.21 134.6,-14.52 135.6,-13.84 136.6,-13.16 137.6,-12.48 138.6,-11.81 139.6,-11.13 140.6,-10.46 141.6,-9.78 142.6,-9.11 143.6,-8.44 144.6,-7.77 145.6,-7.11 146.6,-6.44 147.6,-5.78 148.6,-5.11 149.6,-4.45 150.6,-3.79 151.6,-3.13 152.6,-2.48 153.6,-1.82 154.6,-1.17 155.6,-0.51 156.6,0.14 157.6,0.79 158.6,1.44 159.6,2.09 160.6,2.73 161.6,3.38 162.6,4.02 163.6,4.66 164.6,5.31 165.6,5.95 166.6,6.59 167.6,7.22 168.6,7.86 169.6,8.50 170.6,9.13 171.6,9.76 172.6,10.39 173.6,11.03 174.6,11.65 175.6,12.28 176.6,12.91 177.6,13.54 178.6,14.16 179.6,14.79 180.6,15.41 181.6,16.03 182.6,16.65 183.6,17.27 184.6,17.89 185.6,18.51 186.6,19.12 187.6,19.74 188.6,20.35 189.6,20.97 190.6,21.58 191.6,22.19 192.6,22.80 193.6,23.41 194.6,24.02 195.6,24.62 196.6,25.23 197.6,25.84 198.6,26.44 199.6,27.04 200.6,27.65 201.6,28.25 202.6,28.85 203.6,29.45 204.6,30.05 205.6,30.64 206.6,31.24 207.6,31.83 208.6,32.43 209.6,33.02 210.6,33.62 211.6,34.21 212.6,34.80 213.6,35.39 214.6,35.98 215.6,36.57 216.6,37.16 217.6,37.74 218.6,38.33 219.6,38.91 220.6,39.50 221.6,40.08 222.6,40.66 223.6,41.25 224.6,41.83 225.6,42.41 226.6,42.99 227.6,43.56 228.6,44.14 229.6,44.72 230.6,45.29 231.6,45.87 232.6,46.44 233.6,47.02 234.6,47.59 235.6,48.16 236.6,48.73 237.6,49.30 238.6,49.87 239.6,50.44 240.6,51.01 241.6,51.58 242.6,52.14 243.6,52.71 244.6,53.27 245.6,53.84 246.6,54.40 247.6,54.96 248.6,55.53 249.6,56.09 250.6,56.65 251.6,57.21 252.6,57.77 253.6,58.33 254.6,58.88 255.6,59.44 256.6,60.00 257.6,60.55 258.6,61.11 259.6,61.66 260.6,62.22 261.6,62.77 262.6,63.32 263.6,63.87 264.6,64.42 265.6,64.97 266.6,65.52 267.6,66.07 268.6,66.62 269.6,67.17 270.6,67.72 271.6,68.26 272.6,68.81 273.6,69.35 274.6,69.90 275.6,70.44 276.6,70.98 277.6,71.53 278.6,72.07 279.6,72.61 280.6,73.15 281.6,73.69 282.6,74.23 283.6,74.77 284.6,75.31 285.6,75.84 286.6,76.38 287.6,76.92 288.6,77.45 289.6,77.99 290.6,78.52 291.6,79.06 292.6,79.59 293.6,80.12 294.6,80.65 295.6,81.18 296.6,81.72 297.6,82.25 298.6,82.78 299.6,83.30 300.6,83.83 301.6,84.36 302.6,84.89 303.6,85.42 304.6,85.94 305.6,86.47 306.6,86.99 307.6,87.52 308.6,88.04 309.6,88.57 310.6,89.09 311.6,89.61 312.6,90.13 313.6,90.65 314.6,91.18 315.6,91.70 316.6,92.22 317.6,92.73 318.6,93.25 319.6,93.77 320.6,94.29 321.6,94.81 322.6,95.32 323.6,95.84 324.6,96.35 325.6,96.87 326.6,97.38 327.6,97.90 328.6,98.41 329.6,98.92 330.6,99.44 331.6,99.95 332.6,100.46 333.6,100.97 334.6,101.48 335.6,101.99 336.6,102.50 337.6,103.01 338.6,103.52 339.6,104.03 340.6,104.53 341.6,105.04 342.6,105.55 343.6,106.05 344.6,106.56 345.6,107.07 346.6,107.57 347.6,108.07 348.6,108.58 349.6,109.08 350.6,109.58 351.6,110.09 352.6,110.59 353.6,111.09 354.6,111.59 355.6,112.09 356.6,112.59 357.6,113.09 358.6,113.59 359.6,114.09 360.6,114.59 361.6,115.08 362.6,115.58 363.6,116.08 364.6,116.57 365.6,117.07 366.6,117.57 367.6,118.06 368.6,118.56 369.6,119.05 370.6,119.54 371.6,120.04 372.6,120.53 373.6,121.02 374.6,121.52 375.6,122.01 376.6,122.50 377.6,122.99 378.6,123.48 379.6,123.97 380.6,124.46 381.6,124.95 382.6,125.44 383.6,125.92 384.6,126.41 385.6,126.90 386.6,127.39 387.6,127.87 388.6,128.36 389.6,128.85 390.6,129.33 391.6,129.82 392.6,130.30 393.6,130.78 394.6,131.27 395.6,131.75 396.6,132.23 397.6,132.72 398.6,133.20 399.6,133.68 400.6,134.16 401.6,134.64" stroke="#bcbd22"/>
<path d="M57.6,56.85 58.1,56.85 58.6,56.85 59.1,56.85 59.6,56.85 60.1,56.85 60.6,56.85 61.1,56.85 61.6,56.85 62.1,56.85 62.6,56.85 63.1,56.85 63.6,56.85 64.1,56.85 64.6,56.85 65.1,56.85 65.6,56.85 66.1,56.85 66.6,56.85 67.1,56.85 67.6,56.85 68.1,56.85 68.6,56.85 69.1,56.85 69.6,56.85 70.1,56.85 70.6,56.85 71.1,56.85 71.6,56.85 72.1,56.85 72.6,56.85 73.1,56.85 73.6,56.85 74.1,56.85 74.6,56.85 75.1,56.85 75.6,56.85 76.1,56.85 76.6,56.85 77.1,56.85 77.6,56.85 78.1,56.85 78.6,56.85 79.1,56.85 79.6,56.85 80.1,56.85 80.6,56.85 81.1,56.85 81.6,56.85 82.1,56.85 82.6,56.85 83.1,56.85 83.6,56.85 84.1,56.85 84.6,56.85 85.1,56.85 85.6,56.85 86.1,56.85 86.6,56.85 87.1,56.85 87.6,56.85 88.1,56.85 88.6,56.85 89.1,56.85 89.6,56.85 90.1,56.85 90.6,56.85 91.1,56.85 91.6,56.85 92.1,56.85 92.6,56.85 93.1,56.85 93.6,56.85 94.1,56.85 94.6,56.85 95.1,56.85 95.6,56.85 96.1,56.85 96.6,56.85 97.1,56.85 97.6,56.85 98.1,56.85 98.6,56.85 99.1,56.85 99.6,56.85 100.1,56.85 100.6,56.85 101.1,56.85 101.6,56.85 102.1,56.85 102.6,56.85 103.1,56.85 103.6,56.85 104.1,56.85 104.6,56.85 105.1,56.85 105.6,56.85 106.1,56.85 106.6,56.85 107.1,56.86 107.6,56.86 108.1,56.86 108.6,56.86 109.1,56.86 109.6,56.86 110.1,56.86 110.6,56.86 111.1,56.86 111.6,56.86 112.1,56.87 112.6,56.87 113.1,56.87 113.6,56.87 114.1,56.87 114.6,56.87 115.1,56.87 115.6,56.88 116.1,56.88 116.6,56.88 117.1,56.88 117.6,56.88 118.1,56.89 118.6,56.89 119.1,56.89 119.6,56.89 120.1,56.89 120.6,56.89 121.1,56.90 121.6,56.90 122.1,56.90 122.6,56.90 123.1,56.91 123.6,56.91 124.1,56.91 124.6,56.91 125.1,56.91 125.6,56.92 126.1,56.92 126.6,56.92 127.1,56.92 127.6,56.93 128.1,56.93 128.6,56.93 129.1,56.93 129.6,56.94 130.1,56.94 130.6,56.94 131.1,56.95 131.6,56.95 132.1,56.95 132.6,56.95 133.1,56.96 133.6,56.96 134.1,56.96 134.6,56.97 135.1,56.97 135.6,56.97 136.1,56.98 136.6,56.98 137.1,56.98 137.6,56.98 138.1,56.99 138.6,56.99 139.1,56.99 139.6,57.00 140.1,57.00 140.6,57.00 141.1,57.01 141.6,57.01 142.1,57.02 142.6,57.02 143.1,57.03 143.6,57.03 144.1,57.04 144.6,57.04 145.1,57.05 145.6,57.05 146.1,57.06 146.6,57.07 147.1,57.07 147.6,57.08 148.1,57.09 148.6,57.09 149.1,57.10 149.6,57.11 150.1,57.12 150.6,57.13 151.1,57.14 151.6,57.14 152.1,57.15 152.6,57.16 153.1,57.17 153.6,57.18 154.1,57.19 154.6,57.20 155.1,57.21 155.6,57.22 156.1,57.23 156.6,57.24 157.1,57.25 157.6,57.27 158.1,57.28 158.6,57.29 159.1,57.30 159.6,57.31 160.1,57.33 160.6,57.34 161.1,57.35 161.6,57.36 162.1,57.38 162.6,57.39 163.1,57.40 163.6,57.42 164.1,57.43 164.6,57.44 165.1,57.46 165.6,57.47 166.1,57.48 166.6,57.50 167.1,57.51 167.6,57.53 168.1,57.54 168.6,57.56 169.1,57.57 169.6,57.59 170.1,57.60 170.6,57.62 171.1,57.64 171.6,57.65 172.1,57.67 172.6,57.69 173.1,57.71 173.6,57.74 174.1,57.76 174.6,57.78 175.1,57.80 175.6,57.83 176.1,57.86 176.6,57.88 177.1,57.91 177.6,57.94 178.1,57.96 178.6,57.99 179.1,58.02 179.6,58.05 180.1,58.08 180.6,58.11 181.1,58.14 181.6,58.18 182.1,58.21 182.6,58.24 183.1,58.27 183.6,58.31 184.1,58.34 184.6,58.37 185.1,58.41 185.6,58.44 186.1,58.48 186.6,58.51 187.1,58.55 187.6,58.59 188.1,58.63 188.6,58.67 189.1,58.71 189.6,58.75 190.1,58.79 190.6,58.84 191.1,58.88 191.6,58.93 192.1,58.97 192.6,59.02 193.1,59.07 193.6,59.11 194.1,59.16 194.6,59.21 195.1,59.26 195.6,59.32 196.1,59.37 196.6,59.42 197.1,59.47 197.6,59.53 198.1,59.58 198.6,59.64 199.1,59.70 199.6,59.75 200.1,59.81 200.6,59.87 201.1,59.93 201.6,60.00 202.1,60.06 202.6,60.13 203.1,60.19 203.6,60.26 204.1,60.33 204.6,60.41 205.1,60.48 205.6,60.56 206.1,60.63 206.6,60.71 207.1,60.79 207.6,60.87 208.1,60.95 208.6,61.03 209.1,61.11 209.6,61.19 210.1,61.28 210.6,61.36 211.1,61.45 211.6,61.53 212.1,61.62 212.6,61.70 213.1,61.79 213.6,61.88 214.1,61.97 214.6,62.07 215.1,62.16 215.6,62.26 216.1,62.35 216.6,62.45 217.1,62.55 217.6,62.65 218.1,62.75 218.6,62.85 219.1,62.95 219.6,63.06 220.1,63.16 220.6,63.27 221.1,63.37 221.6,63.48 222.1,63.59 222.6,63.70 223.1,63.80 223.6,63.91 224.1,64.02 224.6,64.13 225.1,64.24 225.6,64.35 226.1,64.46 226.6,64.58 227.1,64.69 227.6,64.80 228.1,64.92 228.6,65.03 229.1,65.15 229.6,65.27 230.1,65.38 230.6,65.50 231.1,65.62 231.6,65.74 232.1,65.86 232.6,65.98 233.1,66.10 233.6,66.23 234.1,66.35 234.6,66.48 235.1,66.60 235.6,66.73 236.1,66.86 236.6,66.99 237.1,67.12 237.6,67.25 238.1,67.39 238.6,67.52 239.1,67.65 239.6,67.79 240.1,67.93 240.6,68.07 241.1,68.21 241.6,68.36 242.1,68.50 242.6,68.65 243.1,68.81 243.6,68.96 244.1,69.12 244.6,69.27 245.1,69.43 245.6,69.59 246.1,69.75 246.6,69.91 247.1,70.07 247.6,70.23 248.1,70.39 248.6,70.56 249.1,70.71 249.6,70.87 250.1,71.03 250.6,71.19 251.1,71.35 251.6,71.50 252.1,71.66 252.6,71.82 253.1,71.97 253.6,72.13 254.1,72.29 254.6,72.44 255.1,72.60 255.6,72.76 256.1,72.92 256.6,73.08 257.1,73.24 257.6,73.40 258.1,73.57 258.6,73.73 259.1,73.90 259.6,74.06 260.1,74.23 260.6,74.40 261.1,74.58 261.6,74.75 262.1,74.93 262.6,75.11 263.1,75.28 263.6,75.46 264.1,75.65 264.6,75.83 265.1,76.01 265.6,76.19 266.1,76.38 266.6,76.56 267.1,76.74 267.6,76.93 268.1,77.11 268.6,77.29 269.1,77.47 269.6,77.66 270.1,77.84 270.6,78.02 271.1,78.20 271.6,78.37 272.1,78.55 272.6,78.73 273.1,78.91 273.6,79.09 274.1,79.27 274.6,79.45 275.1,79.63 275.6,79.81 276.1,79.99 276.6,80.17 277.1,80.35 277.6,80.53 278.1,80.71 278.6,80.89 279.1,81.07 279.6,81.25 280.1,81.44 280.6,81.62 281.1,81.81 281.6,81.99 282.1,82.17 282.6,82.36 283.1,82.55 283.6,82.73 284.1,82.92 284.6,83.11 285.1,83.29 285.6,83.48 286.1,83.67 286.6,83.86 287.1,84.04 287.6,84.23 288.1,84.42 288.6,84.61 289.1,84.80 289.6,84.99 290.1,85.18 290.6,85.37 291.1,85.56 291.6,85.75 292.1,85.94 292.6,86.13 293.1,86.32 293.6,86.51 294.1,86.70 294.6,86.89 295.1,87.08 295.6,87.27 296.1,87.46 296.6,87.65 297.1,87.85 297.6,88.04 298.1,88.24 298.6,88.43 299.1,88.63 299.6,88.84 300.1,89.04 300.6,89.25 301.1,89.46 301.6,89.67 302.1,89.89 302.6,90.10 303.1,90.32 303.6,90.54 304.1,90.75 304.6,90.98 305.1,91.20 305.6,91.42 306.1,91.65 306.6,91.87 307.1,92.10 307.6,92.33 308.1,92.56 308.6,92.79 309.1,93.02 309.6,93.25 310.1,93.48 310.6,93.71 311.1,93.95 311.6,94.18 312.1,94.42 312.6,94.65 313.1,94.89 313.6,95.12 314.1,95.36 314.6,95.59 315.1,95.83 315.6,96.07 316.1,96.30 316.6,96.54 317.1,96.78 317.6,97.01 318.1,97.25 318.6,97.48 319.1,97.72 319.6,97.95 320.1,98.19 320.6,98.42 321.1,98.65 321.6,98.89 322.1,99.12 322.6,99.35 323.1,99.59 323.6,99.82 324.1,100.06 324.6,100.30 325.1,100.53 325.6,100.77 326.1,101.01 326.6,101.25 327.1,101.49 327.6,101.72 328.1,101.96 328.6,102.20 329.1,102.44 329.6,102.68 330.1,102.92 330.6,103.16 331.1,103.40 331.6,103.64 332.1,103.88 332.6,104.12 333.1,104.35 333.6,104.59 334.1,104.83 334.6,105.07 335.1,105.30 335.6,105.54 336.1,105.78 336.6,106.01 337.1,106.25 337.6,106.48 338.1,106.72 338.6,106.95 339.1,107.18 339.6,107.42 340.1,107.65 340.6,107.88 341.1,108.11 341.6,108.33 342.1,108.56 342.6,108.79 343.1,109.02 343.6,109.24 344.1,109.47 344.6,109.70 345.1,109.92 345.6,110.15 346.1,110.37 346.6,110.60 347.1,110.82 347.6,111.04 348.1,111.27 348.6,111.49 349.1,111.71 349.6,111.94 350.1,112.16 350.6,112.38 351.1,112.60 351.6,112.83 352.1,113.05 352.6,113.27 353.1,113.49 353.6,113.72 354.1,113.94 354.6,114.16 355.1,114.39 355.6,114.61 356.1,114.84 356.6,115.06 357.1,115.29 357.6,115.51 358.1,115.74 358.6,115.96 359.1,116.19 359.6,116.42 360.1,116.65 360.6,116.87 361.1,117.10 361.6,117.34 362.1,117.57 362.6,117.80 363.1,118.03 363.6,118.27 364.1,118.50 364.6,118.74 365.1,118.97 365.6,119.21 366.1,119.44 366.6,119.67 367.1,119.91 367.6,120.14 368.1,120.37 368.6,120.61 369.1,120.84 369.6,121.07 370.1,121.30 370.6,121.53 371.1,121.75 371.6,121.98 372.1,122.20 372.6,122.42 373.1,122.64 373.6,122.86 374.1,123.08 374.6,123.30 375.1,123.51 375.6,123.73 376.1,123.94 376.6,124.16 377.1,124.37 377.6,124.58 378.1,124.80 378.6,125.01 379.1,125.22 379.6,125.43 380.1,125.64 380.6,125.84 381.1,126.05 381.6,126.26 382.1,126.47 382.6,126.67 383.1,126.88 383.6,127.09 384.1,127.29 384.6,127.50 385.1,127.70 385.6,127.91 386.1,128.11 386.6,128.31 387.1,128.52 387.6,128.72 388.1,128.93 388.6,129.13 389.1,129.33 389.6,129.54 390.1,129.74 390.6,129.94 391.1,130.15 391.6,130.35 392.1,130.55 392.6,130.75 393.1,130.96 393.6,131.16 394.1,131.36 394.6,131.56 395.1,131.76 395.6,131.96 396.1,132.16 396.6,132.36 397.1,132.55 397.6,132.75 398.1,132.95 398.6,133.15 399.1,133.34 399.6,133.54 400.1,133.74 400.6,133.93 401.1,134.13 401.6,134.33 402.1,134.52" stroke="#000000"/>
<path d="M57.5,84.50 58.0,86.70 58.5,88.85 59.0,90.95 59.5,93.00 60.0,95.00 60.5,96.97 61.0,98.91 61.5,100.76 62.0,102.50 62.5,104.12 63.0,105.65 63.5,107.11 64.0,108.50 64.5,109.82 65.0,111.07 65.5,112.28 66.0,113.50 66.5,114.74 67.0,115.99 67.5,117.21 68.0,118.38 68.5,119.48 69.0,120.57 69.5,121.62 70.0,122.66 70.5,123.66 71.0,124.64 71.5,125.58 72.0,126.50 72.5,127.39 73.0,128.27 73.5,129.12 74.0,129.95 74.5,130.75 75.0,131.53 75.5,132.28 76.0,133.00 76.5,133.70 77.0,134.39 77.5,135.06 78.0,135.71 78.5,136.34 79.0,136.93 79.5,137.49 80.0,138.00 80.5,138.49 81.0,138.96 81.5,139.42 82.0,139.86 82.5,140.28 83.0,140.68 83.5,141.05 84.0,141.40 84.5,141.72 85.0,142.00 85.5,142.27 86.0,142.53 86.5,142.78 87.0,143.02 87.5,143.25 88.0,143.45 88.5,143.63 89.0,143.79 89.5,143.91 90.0,144.00 90.5,144.07 91.0,144.13 91.5,144.20 92.0,144.25 92.5,144.31 93.0,144.36 93.5,144.40 94.0,144.43 94.5,144.46 95.0,144.48 95.5,144.50 96.0,144.50 96.5,144.49 97.0,144.45 97.5,144.40 98.0,144.33 98.5,144.25 99.0,144.17 99.5,144.08 100.0,144.00 100.5,143.91 101.0,143.81 101.5,143.70 102.0,143.58 102.5,143.45 103.0,143.31 103.5,143.17 104.0,143.02 104.5,142.87 105.0,142.71 105.5,142.55 106.0,142.39 106.5,142.23 107.0,142.07 107.5,141.92 108.0,141.76 108.5,141.61 109.0,141.47 109.5,141.33 110.0,141.20 110.5,141.07 111.0,140.95 111.5,140.83 112.0,140.70 112.5,140.58 113.0,140.46 113.5,140.35 114.0,140.23 114.5,140.11 115.0,139.99 115.5,139.88 116.0,139.76 116.5,139.65 117.0,139.54 117.5,139.43 118.0,139.31 118.5,139.20 119.0,139.09 119.5,138.98 120.0,138.87 120.5,138.76 121.0,138.66 121.5,138.55 122.0,138.44 122.5,138.33 123.0,138.23 123.5,138.12 124.0,138.01 124.5,137.91 125.0,137.80 125.5,137.69 126.0,137.59 126.5,137.48 127.0,137.38 127.5,137.27 128.0,137.17 128.5,137.06 129.0,136.96 129.5,136.85 130.0,136.75 130.5,136.65 131.0,136.54 131.5,136.44 132.0,136.34 132.5,136.24 133.0,136.14 133.5,136.04 134.0,135.94 134.5,135.84 135.0,135.74 135.5,135.64 136.0,135.55 136.5,135.45 137.0,135.35 137.5,135.26 138.0,135.17 138.5,135.07 139.0,134.98 139.5,134.89 140.0,134.80 140.5,134.71 141.0,134.62 141.5,134.53 142.0,134.43 142.5,134.34 143.0,134.25 143.5,134.17 144.0,134.08 144.5,134.01 145.0,133.93 145.5,133.86 146.0,133.80 146.5,133.74 147.0,133.69 147.5,133.63 148.0,133.58 148.5,133.53 149.0,133.48 149.5,133.43 150.0,133.38 150.5,133.33 151.0,133.29 151.5,133.24 152.0,133.20 152.5,133.16 153.0,133.12 153.5,133.08 154.0,133.04 154.5,133.00 155.0,132.96 155.5,132.92 156.0,132.89 156.5,132.85 157.0,132.81 157.5,132.78 158.0,132.74 158.5,132.71 159.0,132.67 159.5,132.64 160.0,132.60 160.5,132.56 161.0,132.53 161.5,132.50 162.0,132.46 162.5,132.43 163.0,132.40 163.5,132.36 164.0,132.33 164.5,132.30 165.0,132.27 165.5,132.24 166.0,132.21 166.5,132.18 167.0,132.15 167.5,132.12 168.0,132.09 168.5,132.06 169.0,132.03 169.5,132.00 170.0,131.97 170.5,131.94 171.0,131.92 171.5,131.89 172.0,131.86 172.5,131.83 173.0,131.81 173.5,131.78 174.0,131.75 174.5,131.73 175.0,131.70 175.5,131.67 176.0,131.65 176.5,131.62 177.0,131.59 177.5,131.56 178.0,131.53 178.5,131.50 179.0,131.46 179.5,131.43 180.0,131.40 180.5,131.37 181.0,131.34 181.5,131.31 182.0,131.28 182.5,131.25 183.0,131.22 183.5,131.20 184.0,131.17 184.5,131.15 185.0,131.12 185.5,131.10 186.0,131.08 186.5,131.06 187.0,131.05 187.5,131.03 188.0,131.02 188.5,131.01 189.0,131.01 189.5,131.00 190.0,131.00 190.5,131.00 191.0,131.00 191.5,131.00 192.0,131.00 192.5,131.00 193.0,131.00 193.5,131.00 194.0,131.00 194.5,131.00 195.0,131.00 195.5,131.00 196.0,131.00 196.5,131.00 197.0,131.00 197.5,131.00 198.0,131.00 198.5,131.00 199.0,131.00 199.5,131.00 200.0,131.00 200.5,131.00 201.0,131.00 201.5,131.00 202.0,131.00 202.5,131.00 203.0,131.00 203.5,131.00 204.0,131.00 204.5,131.00 205.0,131.00 205.5,131.00 206.0,131.00 206.5,131.01 207.0,131.01 207.5,131.02 208.0,131.03 208.5,131.04 209.0,131.05 209.5,131.07 210.0,131.08 210.5,131.10 211.0,131.11 211.5,131.13 212.0,131.15 212.5,131.17 213.0,131.19 213.5,131.21 214.0,131.23 214.5,131.25 215.0,131.28 215.5,131.30 216.0,131.32 216.5,131.34 217.0,131.37 217.5,131.39 218.0,131.41 218.5,131.43 219.0,131.46 219.5,131.48 220.0,131.50 220.5,131.52 221.0,131.55 221.5,131.57 222.0,131.60 222.5,131.62 223.0,131.65 223.5,131.68 224.0,131.71 224.5,131.74 225.0,131.77 225.5,131.80 226.0,131.83 226.5,131.86 227.0,131.89 227.5,131.92 228.0,131.96 228.5,131.99 229.0,132.02 229.5,132.06 230.0,132.09 230.5,132.12 231.0,132.15 231.5,132.19 232.0,132.22 232.5,132.25 233.0,132.28 233.5,132.31 234.0,132.34 234.5,132.37 235.0,132.40 235.5,132.43 236.0,132.46 236.5,132.48 237.0,132.51 237.5,132.54 238.0,132.57 238.5,132.60 239.0,132.63 239.5,132.65 240.0,132.68 240.5,132.71 241.0,132.74 241.5,132.77 242.0,132.79 242.5,132.82 243.0,132.85 243.5,132.87 244.0,132.90 244.5,132.93 245.0,132.95 245.5,132.98 246.0,133.01 246.5,133.03 247.0,133.06 247.5,133.08 248.0,133.11 248.5,133.13 249.0,133.15 249.5,133.18 250.0,133.20 250.5,133.22 251.0,133.25 251.5,133.27 252.0,133.29 252.5,133.31 253.0,133.33 253.5,133.35 254.0,133.38 254.5,133.40 255.0,133.42 255.5,133.44 256.0,133.46 256.5,133.48 257.0,133.50 257.5,133.52 258.0,133.54 258.5,133.56 259.0,133.58 259.5,133.60 260.0,133.61 260.5,133.63 261.0,133.65 261.5,133.67 262.0,133.69 262.5,133.71 263.0,133.73 263.5,133.75 264.0,133.76 264.5,133.78 265.0,133.80 265.5,133.82 266.0,133.84 266.5,133.85 267.0,133.87 267.5,133.89 268.0,133.91 268.5,133.92 269.0,133.94 269.5,133.96 270.0,133.98 270.5,133.99 271.0,134.01 271.5,134.03 272.0,134.04 272.5,134.06 273.0,134.08 273.5,134.09 274.0,134.11 274.5,134.12 275.0,134.14 275.5,134.16 276.0,134.17 276.5,134.19 277.0,134.21 277.5,134.22 278.0,134.24 278.5,134.25 279.0,134.27 279.5,134.28 280.0,134.30 280.5,134.32 281.0,134.33 281.5,134.35 282.0,134.36 282.5,134.38 283.0,134.39 283.5,134.40 284.0,134.42 284.5,134.43 285.0,134.45 285.5,134.46 286.0,134.48 286.5,134.49 287.0,134.50 287.5,134.52 288.0,134.53 288.5,134.55 289.0,134.57 289.5,134.58 290.0,134.60 290.5,134.62 291.0,134.64 291.5,134.65 292.0,134.67 292.5,134.69 293.0,134.71 293.5,134.73 294.0,134.75 294.5,134.77 295.0,134.79 295.5,134.81 296.0,134.83 296.5,134.85 297.0,134.88 297.5,134.90 298.0,134.92 298.5,134.94 299.0,134.96 299.5,134.98 300.0,135.00 300.5,135.02 301.0,135.04 301.5,135.06 302.0,135.08 302.5,135.10 303.0,135.12 303.5,135.14 304.0,135.16 304.5,135.18 305.0,135.20 305.5,135.22 306.0,135.24 306.5,135.26 307.0,135.28 307.5,135.30 308.0,135.32 308.5,135.34 309.0,135.36 309.5,135.38 310.0,135.41 310.5,135.43 311.0,135.45 311.5,135.48 312.0,135.50 312.5,135.52 313.0,135.55 313.5,135.58 314.0,135.60 314.5,135.63 315.0,135.65 315.5,135.68 316.0,135.71 316.5,135.74 317.0,135.77 317.5,135.80 318.0,135.83 318.5,135.85 319.0,135.88 319.5,135.91 320.0,135.95 320.5,135.98 321.0,136.01 321.5,136.04 322.0,136.07 322.5,136.10 323.0,136.13 323.5,136.16 324.0,136.20 324.5,136.23 325.0,136.26 325.5,136.29 326.0,136.32 326.5,136.35 327.0,136.39 327.5,136.42 328.0,136.45 328.5,136.48 329.0,136.51 329.5,136.55 330.0,136.58 330.5,136.61 331.0,136.64 331.5,136.67 332.0,136.70 332.5,136.73 333.0,136.76 333.5,136.79 334.0,136.82 334.5,136.85 335.0,136.88 335.5,136.92 336.0,136.95 336.5,136.98 337.0,137.01 337.5,137.04 338.0,137.07 338.5,137.10 339.0,137.13 339.5,137.17 340.0,137.20 340.5,137.23 341.0,137.26 341.5,137.29 342.0,137.32 342.5,137.35 343.0,137.38 343.5,137.41 344.0,137.44 344.5,137.47 345.0,137.50 345.5,137.53 346.0,137.56 346.5,137.59 347.0,137.62 347.5,137.65 348.0,137.68 348.5,137.71 349.0,137.73 349.5,137.76 350.0,137.79 350.5,137.82 351.0,137.85 351.5,137.88 352.0,137.91 352.5,137.94 353.0,137.97 353.5,138.00 354.0,138.02 354.5,138.05 355.0,138.08 355.5,138.11 356.0,138.14 356.5,138.16 357.0,138.19 357.5,138.22 358.0,138.25 358.5,138.27 359.0,138.30 359.5,138.32 360.0,138.35 360.5,138.38 361.0,138.40 361.5,138.43 362.0,138.45 362.5,138.48 363.0,138.50 363.5,138.52 364.0,138.55 364.5,138.57 365.0,138.60 365.5,138.62 366.0,138.64 366.5,138.67 367.0,138.69 367.5,138.71 368.0,138.74 368.5,138.76 369.0,138.78 369.5,138.81 370.0,138.83 370.5,138.85 371.0,138.87 371.5,138.90 372.0,138.92 372.5,138.94 373.0,138.97 373.5,138.99 374.0,139.01 374.5,139.03 375.0,139.05 375.5,139.08 376.0,139.10 376.5,139.12 377.0,139.14 377.5,139.16 378.0,139.19 378.5,139.21 379.0,139.23 379.5,139.25 380.0,139.27 380.5,139.29 381.0,139.31 381.5,139.34 382.0,139.36 382.5,139.38 383.0,139.40 383.5,139.42 384.0,139.44 384.5,139.46 385.0,139.48 385.5,139.50 386.0,139.52 386.5,139.54 387.0,139.56 387.5,139.58 388.0,139.60 388.5,139.62 389.0,139.64 389.5,139.65 390.0,139.67 390.5,139.69 391.0,139.71 391.5,139.73 392.0,139.75 392.5,139.77 393.0,139.78 393.5,139.80 394.0,139.82 394.5,139.84 395.0,139.86 395.5,139.87 396.0,139.89 396.5,139.91 397.0,139.92 397.5,139.94 398.0,139.96 398.5,139.97 399.0,139.99 399.5,140.01 400.0,140.02 400.5,140.04 401.0,140.05 401.5,140.07 402.0,140.08 402.5,140.10" stroke="#1f77b4" stroke-dasharray="6.3,2.7"/>
<path d="M57.6,99.30 58.1,100.66 58.6,102.02 59.1,103.40 59.6,104.78 60.1,106.19 60.6,107.63 61.1,109.05 61.6,110.44 62.1,111.76 62.6,113.04 63.1,114.31 63.6,115.55 64.1,116.77 64.6,117.94 65.1,119.08 65.6,120.17 66.1,121.20 66.6,122.21 67.1,123.20 67.6,124.17 68.1,125.13 68.6,126.05 69.1,126.95 69.6,127.82 70.1,128.66 70.6,129.46 71.1,130.23 71.6,130.95 72.1,131.63 72.6,132.29 73.1,132.93 73.6,133.55 74.1,134.15 74.6,134.72 75.1,135.28 75.6,135.81 76.1,136.32 76.6,136.80 77.1,137.25 77.6,137.68 78.1,138.08 78.6,138.46 79.1,138.84 79.6,139.21 80.1,139.56 80.6,139.91 81.1,140.24 81.6,140.55 82.1,140.85 82.6,141.13 83.1,141.40 83.6,141.64 84.1,141.86 84.6,142.06 85.1,142.23 85.6,142.40 86.1,142.57 86.6,142.73 87.1,142.89 87.6,143.04 88.1,143.18 88.6,143.30 89.1,143.40 89.6,143.49 90.1,143.55 90.6,143.59 91.1,143.60 91.6,143.60 92.1,143.59 92.6,143.59 93.1,143.58 93.6,143.57 94.1,143.56 94.6,143.55 95.1,143.53 95.6,143.51 96.1,143.50 96.6,143.46 97.1,143.39 97.6,143.31 98.1,143.21 98.6,143.11 99.1,142.99 99.6,142.88 100.1,142.78 100.6,142.67 101.1,142.56 101.6,142.44 102.1,142.31 102.6,142.18 103.1,142.05 103.6,141.91 104.1,141.77 104.6,141.63 105.1,141.49 105.6,141.35 106.1,141.21 106.6,141.07 107.1,140.93 107.6,140.79 108.1,140.66 108.6,140.53 109.1,140.41 109.6,140.29 110.1,140.18 110.6,140.07 111.1,139.97 111.6,139.86 112.1,139.76 112.6,139.66 113.1,139.57 113.6,139.47 114.1,139.38 114.6,139.29 115.1,139.19 115.6,139.10 116.1,139.01 116.6,138.92 117.1,138.83 117.6,138.74 118.1,138.65 118.6,138.56 119.1,138.47 119.6,138.38 120.1,138.28 120.6,138.19 121.1,138.09 121.6,138.00 122.1,137.90 122.6,137.81 123.1,137.72 123.6,137.62 124.1,137.53 124.6,137.44 125.1,137.34 125.6,137.25 126.1,137.15 126.6,137.06 127.1,136.96 127.6,136.87 128.1,136.77 128.6,136.68 129.1,136.58 129.6,136.48 130.1,136.38 130.6,136.28 131.1,136.18 131.6,136.07 132.1,135.97 132.6,135.86 133.1,135.75 133.6,135.64 134.1,135.53 134.6,135.42 135.1,135.31 135.6,135.20 136.1,135.10 136.6,134.99 137.1,134.88 137.6,134.78 138.1,134.67 138.6,134.57 139.1,134.47 139.6,134.38 140.1,134.28 140.6,134.19 141.1,134.09 141.6,133.99 142.1,133.90 142.6,133.80 143.1,133.71 143.6,133.61 144.1,133.52 144.6,133.42 145.1,133.33 145.6,133.24 146.1,133.16 146.6,133.07 147.1,132.99 147.6,132.92 148.1,132.84 148.6,132.77 149.1,132.71 149.6,132.65 150.1,132.59 150.6,132.54 151.1,132.49 151.6,132.44 152.1,132.39 152.6,132.34 153.1,132.30 153.6,132.26 154.1,132.22 154.6,132.18 155.1,132.14 155.6,132.10 156.1,132.06 156.6,132.03 157.1,131.99 157.6,131.96 158.1,131.92 158.6,131.89 159.1,131.86 159.6,131.83 160.1,131.79 160.6,131.76 161.1,131.73 161.6,131.70 162.1,131.67 162.6,131.63 163.1,131.60 163.6,131.57 164.1,131.54 164.6,131.51 165.1,131.48 165.6,131.45 166.1,131.42 166.6,131.40 167.1,131.37 167.6,131.34 168.1,131.31 168.6,131.29 169.1,131.26 169.6,131.23 170.1,131.21 170.6,131.19 171.1,131.16 171.6,131.14 172.1,131.12 172.6,131.09 173.1,131.07 173.6,131.05 174.1,131.03 174.6,131.01 175.1,131.00 175.6,130.98 176.1,130.96 176.6,130.94 177.1,130.92 177.6,130.90 178.1,130.89 178.6,130.87 179.1,130.85 179.6,130.83 180.1,130.81 180.6,130.80 181.1,130.78 181.6,130.76 182.1,130.75 182.6,130.73 183.1,130.72 183.6,130.70 184.1,130.69 184.6,130.67 185.1,130.66 185.6,130.65 186.1,130.64 186.6,130.63 187.1,130.62 187.6,130.62 188.1,130.61 188.6,130.61 189.1,130.60 189.6,130.60 190.1,130.60 190.6,130.60 191.1,130.60 191.6,130.61 192.1,130.61 192.6,130.62 193.1,130.63 193.6,130.64 194.1,130.65 194.6,130.66 195.1,130.67 195.6,130.68 196.1,130.69 196.6,130.71 197.1,130.72 197.6,130.74 198.1,130.76 198.6,130.77 199.1,130.79 199.6,130.81 200.1,130.82 200.6,130.84 201.1,130.86 201.6,130.88 202.1,130.90 202.6,130.92 203.1,130.93 203.6,130.95 204.1,130.97 204.6,130.99 205.1,131.00 205.6,131.02 206.1,131.04 206.6,131.06 207.1,131.08 207.6,131.10 208.1,131.12 208.6,131.14 209.1,131.16 209.6,131.18 210.1,131.20 210.6,131.23 211.1,131.25 211.6,131.27 212.1,131.30 212.6,131.32 213.1,131.34 213.6,131.37 214.1,131.39 214.6,131.42 215.1,131.44 215.6,131.47 216.1,131.50 216.6,131.52 217.1,131.55 217.6,131.57 218.1,131.60 218.6,131.63 219.1,131.65 219.6,131.68 220.1,131.71 220.6,131.73 221.1,131.76 221.6,131.79 222.1,131.81 222.6,131.84 223.1,131.87 223.6,131.90 224.1,131.93 224.6,131.96 225.1,131.99 225.6,132.02 226.1,132.05 226.6,132.08 227.1,132.11 227.6,132.14 228.1,132.17 228.6,132.20 229.1,132.24 229.6,132.27 230.1,132.30 230.6,132.33 231.1,132.36 231.6,132.39 232.1,132.42 232.6,132.45 233.1,132.48 233.6,132.52 234.1,132.55 234.6,132.58 235.1,132.61 235.6,132.64 236.1,132.67 236.6,132.70 237.1,132.72 237.6,132.75 238.1,132.78 238.6,132.81 239.1,132.84 239.6,132.87 240.1,132.90 240.6,132.93 241.1,132.96 241.6,132.99 242.1,133.02 242.6,133.04 243.1,133.07 243.6,133.10 244.1,133.13 244.6,133.16 245.1,133.19 245.6,133.22 246.1,133.25 246.6,133.28 247.1,133.31 247.6,133.35 248.1,133.38 248.6,133.41 249.1,133.44 249.6,133.47 250.1,133.51 250.6,133.54 251.1,133.57 251.6,133.61 252.1,133.64 252.6,133.68 253.1,133.71 253.6,133.75 254.1,133.78 254.6,133.82 255.1,133.86 255.6,133.89 256.1,133.93 256.6,133.97 257.1,134.01 257.6,134.04 258.1,134.08 258.6,134.12 259.1,134.16 259.6,134.19 260.1,134.23 260.6,134.27 261.1,134.31 261.6,134.35 262.1,134.38 262.6,134.42 263.1,134.46 263.6,134.50 264.1,134.53 264.6,134.57 265.1,134.61 265.6,134.64 266.1,134.68 266.6,134.72 267.1,134.76 267.6,134.79 268.1,134.83 268.6,134.87 269.1,134.91 269.6,134.95 270.1,134.99 270.6,135.02 271.1,135.06 271.6,135.10 272.1,135.14 272.6,135.18 273.1,135.21 273.6,135.25 274.1,135.29 274.6,135.33 275.1,135.36 275.6,135.40 276.1,135.44 276.6,135.47 277.1,135.51 277.6,135.54 278.1,135.58 278.6,135.61 279.1,135.64 279.6,135.67 280.1,135.71 280.6,135.74 281.1,135.77 281.6,135.80 282.1,135.83 282.6,135.85 283.1,135.88 283.6,135.91 284.1,135.94 284.6,135.96 285.1,135.99 285.6,136.02 286.1,136.04 286.6,136.07 287.1,136.09 287.6,136.12 288.1,136.14 288.6,136.17 289.1,136.19 289.6,136.21 290.1,136.24 290.6,136.26 291.1,136.29 291.6,136.31 292.1,136.34 292.6,136.36 293.1,136.39 293.6,136.42 294.1,136.44 294.6,136.47 295.1,136.50 295.6,136.52 296.1,136.55 296.6,136.58 297.1,136.61 297.6,136.64 298.1,136.67 298.6,136.71 299.1,136.74 299.6,136.77 300.1,136.81 300.6,136.84 301.1,136.88 301.6,136.92 302.1,136.96 302.6,137.01 303.1,137.05 303.6,137.10 304.1,137.14 304.6,137.19 305.1,137.24 305.6,137.29 306.1,137.34 306.6,137.39 307.1,137.44 307.6,137.50 308.1,137.55 308.6,137.60 309.1,137.66 309.6,137.71 310.1,137.77 310.6,137.82 311.1,137.87 311.6,137.93 312.1,137.98 312.6,138.03 313.1,138.09 313.6,138.14 314.1,138.19 314.6,138.24 315.1,138.29 315.6,138.34 316.1,138.38 316.6,138.43 317.1,138.47 317.6,138.52 318.1,138.56 318.6,138.60 319.1,138.64 319.6,138.67 320.1,138.71 320.6,138.74 321.1,138.77 321.6,138.81 322.1,138.84 322.6,138.87 323.1,138.90 323.6,138.93 324.1,138.97 324.6,139.00 325.1,139.03 325.6,139.06 326.1,139.09 326.6,139.12 327.1,139.14 327.6,139.17 328.1,139.20 328.6,139.23 329.1,139.26 329.6,139.28 330.1,139.31 330.6,139.34 331.1,139.36 331.6,139.39 332.1,139.42 332.6,139.44 333.1,139.47 333.6,139.49 334.1,139.52 334.6,139.54 335.1,139.57 335.6,139.59 336.1,139.61 336.6,139.64 337.1,139.66 337.6,139.68 338.1,139.71 338.6,139.73 339.1,139.75 339.6,139.77 340.1,139.80 340.6,139.82 341.1,139.84 341.6,139.86 342.1,139.88 342.6,139.90 343.1,139.92 343.6,139.94 344.1,139.96 344.6,139.98 345.1,140.00 345.6,140.02 346.1,140.04 346.6,140.06 347.1,140.08 347.6,140.10 348.1,140.12 348.6,140.13 349.1,140.15 349.6,140.17 350.1,140.18 350.6,140.20 351.1,140.21 351.6,140.23 352.1,140.24 352.6,140.26 353.1,140.27 353.6,140.29 354.1,140.31 354.6,140.32 355.1,140.34 355.6,140.35 356.1,140.37 356.6,140.38 357.1,140.40 357.6,140.41 358.1,140.43 358.6,140.44 359.1,140.46 359.6,140.48 360.1,140.49 360.6,140.51 361.1,140.53 361.6,140.55 362.1,140.57 362.6,140.58 363.1,140.60 363.6,140.62 364.1,140.64 364.6,140.66 365.1,140.68 365.6,140.70 366.1,140.72 366.6,140.74 367.1,140.77 367.6,140.79 368.1,140.81 368.6,140.83 369.1,140.85 369.6,140.87 370.1,140.89 370.6,140.91 371.1,140.94 371.6,140.96 372.1,140.98 372.6,141.00 373.1,141.02 373.6,141.05 374.1,141.07 374.6,141.09 375.1,141.12 375.6,141.14 376.1,141.16 376.6,141.19 377.1,141.21 377.6,141.23 378.1,141.26 378.6,141.28 379.1,141.30 379.6,141.33 380.1,141.35 380.6,141.38 381.1,141.40 381.6,141.43 382.1,141.45 382.6,141.48 383.1,141.50 383.6,141.53 384.1,141.55 384.6,141.58 385.1,141.61 385.6,141.63 386.1,141.66 386.6,141.68 387.1,141.71 387.6,141.74 388.1,141.76 388.6,141.79 389.1,141.82 389.6,141.84 390.1,141.87 390.6,141.90 391.1,141.93 391.6,141.96 392.1,141.98 392.6,142.01 393.1,142.04 393.6,142.07 394.1,142.10 394.6,142.13 395.1,142.15 395.6,142.18 396.1,142.21 396.6,142.24 397.1,142.27 397.6,142.30 398.1,142.33 398.6,142.36 399.1,142.39 399.6,142.42 400.1,142.45 400.6,142.48 401.1,142.51 401.6,142.54 402.1,142.58" stroke="#ff7f0e" stroke-dasharray="6.3,2.7"/>
<path d="M57.6,109.60 58.1,110.63 58.6,111.65 59.1,112.67 59.6,113.69 60.1,114.70 60.6,115.73 61.1,116.76 61.6,117.75 62.1,118.68 62.6,119.57 63.1,120.43 63.6,121.27 64.1,122.08 64.6,122.87 65.1,123.65 65.6,124.41 66.1,125.15 66.6,125.88 67.1,126.61 67.6,127.33 68.1,128.04 68.6,128.73 69.1,129.42 69.6,130.08 70.1,130.73 70.6,131.36 71.1,131.97 71.6,132.55 72.1,133.11 72.6,133.66 73.1,134.20 73.6,134.73 74.1,135.24 74.6,135.75 75.1,136.24 75.6,136.70 76.1,137.15 76.6,137.57 77.1,137.97 77.6,138.33 78.1,138.66 78.6,138.98 79.1,139.29 79.6,139.60 80.1,139.89 80.6,140.17 81.1,140.44 81.6,140.70 82.1,140.94 82.6,141.17 83.1,141.38 83.6,141.57 84.1,141.74 84.6,141.89 85.1,142.02 85.6,142.15 86.1,142.27 86.6,142.39 87.1,142.50 87.6,142.61 88.1,142.70 88.6,142.79 89.1,142.86 89.6,142.92 90.1,142.97 90.6,142.99 91.1,143.00 91.6,143.00 92.1,142.99 92.6,142.97 93.1,142.96 93.6,142.94 94.1,142.91 94.6,142.89 95.1,142.86 95.6,142.83 96.1,142.79 96.6,142.74 97.1,142.67 97.6,142.58 98.1,142.49 98.6,142.38 99.1,142.28 99.6,142.17 100.1,142.08 100.6,141.99 101.1,141.91 101.6,141.82 102.1,141.73 102.6,141.64 103.1,141.55 103.6,141.46 104.1,141.37 104.6,141.28 105.1,141.18 105.6,141.09 106.1,140.99 106.6,140.89 107.1,140.79 107.6,140.69 108.1,140.59 108.6,140.49 109.1,140.38 109.6,140.28 110.1,140.18 110.6,140.08 111.1,139.97 111.6,139.87 112.1,139.77 112.6,139.66 113.1,139.56 113.6,139.45 114.1,139.35 114.6,139.24 115.1,139.14 115.6,139.03 116.1,138.92 116.6,138.82 117.1,138.71 117.6,138.61 118.1,138.50 118.6,138.39 119.1,138.29 119.6,138.18 120.1,138.08 120.6,137.97 121.1,137.87 121.6,137.77 122.1,137.67 122.6,137.56 123.1,137.46 123.6,137.36 124.1,137.26 124.6,137.15 125.1,137.05 125.6,136.95 126.1,136.85 126.6,136.74 127.1,136.64 127.6,136.53 128.1,136.42 128.6,136.31 129.1,136.20 129.6,136.09 130.1,135.98 130.6,135.86 131.1,135.74 131.6,135.61 132.1,135.48 132.6,135.35 133.1,135.22 133.6,135.09 134.1,134.95 134.6,134.82 135.1,134.68 135.6,134.55 136.1,134.42 136.6,134.29 137.1,134.16 137.6,134.03 138.1,133.91 138.6,133.80 139.1,133.69 139.6,133.58 140.1,133.48 140.6,133.38 141.1,133.29 141.6,133.19 142.1,133.10 142.6,133.01 143.1,132.92 143.6,132.84 144.1,132.75 144.6,132.67 145.1,132.58 145.6,132.50 146.1,132.43 146.6,132.35 147.1,132.28 147.6,132.21 148.1,132.14 148.6,132.07 149.1,132.01 149.6,131.95 150.1,131.89 150.6,131.83 151.1,131.78 151.6,131.72 152.1,131.67 152.6,131.62 153.1,131.57 153.6,131.52 154.1,131.47 154.6,131.42 155.1,131.38 155.6,131.33 156.1,131.29 156.6,131.25 157.1,131.21 157.6,131.17 158.1,131.13 158.6,131.09 159.1,131.06 159.6,131.03 160.1,130.99 160.6,130.96 161.1,130.93 161.6,130.90 162.1,130.87 162.6,130.84 163.1,130.81 163.6,130.78 164.1,130.75 164.6,130.72 165.1,130.69 165.6,130.66 166.1,130.63 166.6,130.60 167.1,130.57 167.6,130.55 168.1,130.52 168.6,130.50 169.1,130.48 169.6,130.45 170.1,130.43 170.6,130.41 171.1,130.40 171.6,130.38 172.1,130.36 172.6,130.35 173.1,130.33 173.6,130.32 174.1,130.31 174.6,130.31 175.1,130.30 175.6,130.29 176.1,130.29 176.6,130.28 177.1,130.28 177.6,130.27 178.1,130.27 178.6,130.26 179.1,130.26 179.6,130.25 180.1,130.25 180.6,130.24 181.1,130.24 181.6,130.23 182.1,130.23 182.6,130.23 183.1,130.22 183.6,130.22 184.1,130.22 184.6,130.22 185.1,130.21 185.6,130.21 186.1,130.21 186.6,130.21 187.1,130.20 187.6,130.20 188.1,130.20 188.6,130.20 189.1,130.20 189.6,130.20 190.1,130.20 190.6,130.20 191.1,130.21 191.6,130.22 192.1,130.23 192.6,130.24 193.1,130.26 193.6,130.28 194.1,130.30 194.6,130.32 195.1,130.35 195.6,130.38 196.1,130.41 196.6,130.44 197.1,130.47 197.6,130.50 198.1,130.53 198.6,130.57 199.1,130.60 199.6,130.64 200.1,130.67 200.6,130.71 201.1,130.75 201.6,130.78 202.1,130.82 202.6,130.85 203.1,130.88 203.6,130.92 204.1,130.95 204.6,130.98 205.1,131.01 205.6,131.03 206.1,131.06 206.6,131.09 207.1,131.12 207.6,131.15 208.1,131.18 208.6,131.21 209.1,131.24 209.6,131.27 210.1,131.30 210.6,131.33 211.1,131.36 211.6,131.39 212.1,131.42 212.6,131.45 213.1,131.48 213.6,131.51 214.1,131.54 214.6,131.57 215.1,131.60 215.6,131.63 216.1,131.66 216.6,131.69 217.1,131.72 217.6,131.75 218.1,131.79 218.6,131.82 219.1,131.85 219.6,131.88 220.1,131.91 220.6,131.94 221.1,131.97 221.6,132.00 222.1,132.03 222.6,132.06 223.1,132.09 223.6,132.12 224.1,132.15 224.6,132.18 225.1,132.21 225.6,132.24 226.1,132.27 226.6,132.30 227.1,132.33 227.6,132.36 228.1,132.39 228.6,132.42 229.1,132.45 229.6,132.48 230.1,132.51 230.6,132.54 231.1,132.57 231.6,132.60 232.1,132.63 232.6,132.66 233.1,132.69 233.6,132.72 234.1,132.75 234.6,132.78 235.1,132.81 235.6,132.83 236.1,132.86 236.6,132.89 237.1,132.91 237.6,132.94 238.1,132.97 238.6,132.99 239.1,133.02 239.6,133.04 240.1,133.06 240.6,133.09 241.1,133.11 241.6,133.14 242.1,133.16 242.6,133.19 243.1,133.21 243.6,133.24 244.1,133.26 244.6,133.29 245.1,133.31 245.6,133.34 246.1,133.37 246.6,133.39 247.1,133.42 247.6,133.45 248.1,133.48 248.6,133.51 249.1,133.54 249.6,133.57 250.1,133.61 250.6,133.64 251.1,133.68 251.6,133.71 252.1,133.75 252.6,133.79 253.1,133.83 253.6,133.87 254.1,133.91 254.6,133.95 255.1,134.00 255.6,134.04 256.1,134.08 256.6,134.13 257.1,134.17 257.6,134.22 258.1,134.27 258.6,134.31 259.1,134.36 259.6,134.41 260.1,134.45 260.6,134.50 261.1,134.55 261.6,134.59 262.1,134.64 262.6,134.69 263.1,134.73 263.6,134.78 264.1,134.82 264.6,134.87 265.1,134.91 265.6,134.95 266.1,135.00 266.6,135.04 267.1,135.09 267.6,135.13 268.1,135.18 268.6,135.22 269.1,135.27 269.6,135.32 270.1,135.36 270.6,135.41 271.1,135.46 271.6,135.50 272.1,135.55 272.6,135.59 273.1,135.64 273.6,135.68 274.1,135.73 274.6,135.77 275.1,135.82 275.6,135.86 276.1,135.90 276.6,135.94 277.1,135.98 277.6,136.02 278.1,136.06 278.6,136.10 279.1,136.14 279.6,136.17 280.1,136.21 280.6,136.24 281.1,136.27 281.6,136.30 282.1,136.33 282.6,136.36 283.1,136.39 283.6,136.42 284.1,136.45 284.6,136.47 285.1,136.50 285.6,136.53 286.1,136.55 286.6,136.57 287.1,136.60 287.6,136.62 288.1,136.65 288.6,136.67 289.1,136.69 289.6,136.72 290.1,136.74 290.6,136.77 291.1,136.79 291.6,136.81 292.1,136.84 292.6,136.86 293.1,136.89 293.6,136.91 294.1,136.94 294.6,136.96 295.1,136.99 295.6,137.02 296.1,137.05 296.6,137.08 297.1,137.11 297.6,137.14 298.1,137.17 298.6,137.20 299.1,137.24 299.6,137.27 300.1,137.31 300.6,137.35 301.1,137.39 301.6,137.43 302.1,137.47 302.6,137.52 303.1,137.57 303.6,137.62 304.1,137.67 304.6,137.73 305.1,137.78 305.6,137.84 306.1,137.90 306.6,137.95 307.1,138.01 307.6,138.07 308.1,138.14 308.6,138.20 309.1,138.26 309.6,138.32 310.1,138.38 310.6,138.45 311.1,138.51 311.6,138.57 312.1,138.63 312.6,138.70 313.1,138.76 313.6,138.82 314.1,138.88 314.6,138.94 315.1,139.00 315.6,139.06 316.1,139.11 316.6,139.17 317.1,139.22 317.6,139.27 318.1,139.32 318.6,139.37 319.1,139.42 319.6,139.47 320.1,139.51 320.6,139.55 321.1,139.59 321.6,139.63 322.1,139.67 322.6,139.71 323.1,139.75 323.6,139.79 324.1,139.83 324.6,139.87 325.1,139.91 325.6,139.95 326.1,139.99 326.6,140.02 327.1,140.06 327.6,140.10 328.1,140.13 328.6,140.17 329.1,140.20 329.6,140.24 330.1,140.27 330.6,140.31 331.1,140.34 331.6,140.38 332.1,140.41 332.6,140.44 333.1,140.48 333.6,140.51 334.1,140.54 334.6,140.57 335.1,140.61 335.6,140.64 336.1,140.67 336.6,140.70 337.1,140.73 337.6,140.76 338.1,140.79 338.6,140.82 339.1,140.85 339.6,140.88 340.1,140.91 340.6,140.94 341.1,140.97 341.6,141.00 342.1,141.03 342.6,141.06 343.1,141.09 343.6,141.12 344.1,141.15 344.6,141.18 345.1,141.21 345.6,141.23 346.1,141.26 346.6,141.29 347.1,141.32 347.6,141.34 348.1,141.37 348.6,141.39 349.1,141.42 349.6,141.45 350.1,141.47 350.6,141.50 351.1,141.52 351.6,141.54 352.1,141.57 352.6,141.59 353.1,141.62 353.6,141.64 354.1,141.66 354.6,141.69 355.1,141.71 355.6,141.73 356.1,141.76 356.6,141.78 357.1,141.81 357.6,141.83 358.1,141.85 358.6,141.88 359.1,141.90 359.6,141.93 360.1,141.95 360.6,141.98 361.1,142.00 361.6,142.03 362.1,142.05 362.6,142.08 363.1,142.11 363.6,142.13 364.1,142.16 364.6,142.19 365.1,142.21 365.6,142.24 366.1,142.27 366.6,142.29 367.1,142.32 367.6,142.35 368.1,142.37 368.6,142.40 369.1,142.43 369.6,142.46 370.1,142.48 370.6,142.51 371.1,142.54 371.6,142.57 372.1,142.59 372.6,142.62 373.1,142.65 373.6,142.68 374.1,142.71 374.6,142.73 375.1,142.76 375.6,142.79 376.1,142.82 376.6,142.85 377.1,142.87 377.6,142.90 378.1,142.93 378.6,142.96 379.1,142.99 379.6,143.02 380.1,143.04 380.6,143.07 381.1,143.10 381.6,143.13 382.1,143.16 382.6,143.19 383.1,143.22 383.6,143.25 384.1,143.28 384.6,143.31 385.1,143.33 385.6,143.36 386.1,143.39 386.6,143.42 387.1,143.45 387.6,143.48 388.1,143.51 388.6,143.54 389.1,143.57 389.6,143.60 390.1,143.63 390.6,143.66 391.1,143.69 391.6,143.72 392.1,143.75 392.6,143.78 393.1,143.81 393.6,143.84 394.1,143.87 394.6,143.91 395.1,143.94 395.6,143.97 396.1,144.00 396.6,144.03 397.1,144.06 397.6,144.09 398.1,144.12 398.6,144.15 399.1,144.18 399.6,144.22 400.1,144.25 400.6,144.28 401.1,144.31 401.6,144.34 402.1,144.37" stroke="#2ca02c" stroke-dasharray="6.3,2.7"/>
<path d="M57.6,107.00 58.1,108.19 58.6,109.36 59.1,110.51 59.6,111.63 60.1,112.72 60.6,113.78 61.1,114.83 61.6,115.85 62.1,116.85 62.6,117.82 63.1,118.77 63.6,119.71 64.1,120.64 64.6,121.55 65.1,122.44 65.6,123.30 66.1,124.12 66.6,124.90 67.1,125.65 67.6,126.38 68.1,127.09 68.6,127.78 69.1,128.46 69.6,129.11 70.1,129.75 70.6,130.37 71.1,130.97 71.6,131.55 72.1,132.11 72.6,132.67 73.1,133.22 73.6,133.76 74.1,134.30 74.6,134.82 75.1,135.32 75.6,135.81 76.1,136.27 76.6,136.71 77.1,137.13 77.6,137.51 78.1,137.87 78.6,138.21 79.1,138.54 79.6,138.87 80.1,139.18 80.6,139.49 81.1,139.78 81.6,140.06 82.1,140.32 82.6,140.57 83.1,140.80 83.6,141.01 84.1,141.21 84.6,141.38 85.1,141.53 85.6,141.67 86.1,141.82 86.6,141.96 87.1,142.09 87.6,142.22 88.1,142.34 88.6,142.44 89.1,142.53 89.6,142.61 90.1,142.66 90.6,142.69 91.1,142.70 91.6,142.70 92.1,142.69 92.6,142.69 93.1,142.68 93.6,142.67 94.1,142.66 94.6,142.65 95.1,142.63 95.6,142.61 96.1,142.60 96.6,142.56 97.1,142.49 97.6,142.40 98.1,142.30 98.6,142.19 99.1,142.08 99.6,141.98 100.1,141.88 100.6,141.79 101.1,141.71 101.6,141.62 102.1,141.53 102.6,141.44 103.1,141.35 103.6,141.26 104.1,141.17 104.6,141.08 105.1,140.98 105.6,140.89 106.1,140.79 106.6,140.69 107.1,140.59 107.6,140.49 108.1,140.39 108.6,140.29 109.1,140.18 109.6,140.08 110.1,139.98 110.6,139.88 111.1,139.77 111.6,139.67 112.1,139.57 112.6,139.46 113.1,139.36 113.6,139.25 114.1,139.15 114.6,139.04 115.1,138.94 115.6,138.83 116.1,138.72 116.6,138.62 117.1,138.51 117.6,138.41 118.1,138.30 118.6,138.19 119.1,138.09 119.6,137.98 120.1,137.88 120.6,137.77 121.1,137.67 121.6,137.57 122.1,137.47 122.6,137.36 123.1,137.26 123.6,137.16 124.1,137.06 124.6,136.95 125.1,136.85 125.6,136.75 126.1,136.65 126.6,136.54 127.1,136.44 127.6,136.33 128.1,136.22 128.6,136.11 129.1,136.00 129.6,135.89 130.1,135.78 130.6,135.66 131.1,135.54 131.6,135.41 132.1,135.29 132.6,135.16 133.1,135.03 133.6,134.89 134.1,134.76 134.6,134.62 135.1,134.49 135.6,134.36 136.1,134.23 136.6,134.10 137.1,133.97 137.6,133.84 138.1,133.72 138.6,133.60 139.1,133.49 139.6,133.38 140.1,133.28 140.6,133.18 141.1,133.08 141.6,132.99 142.1,132.89 142.6,132.80 143.1,132.71 143.6,132.63 144.1,132.54 144.6,132.46 145.1,132.37 145.6,132.29 146.1,132.21 146.6,132.13 147.1,132.05 147.6,131.97 148.1,131.89 148.6,131.82 149.1,131.74 149.6,131.66 150.1,131.58 150.6,131.51 151.1,131.43 151.6,131.36 152.1,131.28 152.6,131.21 153.1,131.13 153.6,131.06 154.1,130.98 154.6,130.91 155.1,130.84 155.6,130.77 156.1,130.70 156.6,130.63 157.1,130.57 157.6,130.50 158.1,130.43 158.6,130.37 159.1,130.31 159.6,130.25 160.1,130.19 160.6,130.13 161.1,130.07 161.6,130.00 162.1,129.94 162.6,129.87 163.1,129.80 163.6,129.74 164.1,129.67 164.6,129.60 165.1,129.54 165.6,129.47 166.1,129.40 166.6,129.34 167.1,129.28 167.6,129.22 168.1,129.16 168.6,129.10 169.1,129.05 169.6,129.00 170.1,128.95 170.6,128.90 171.1,128.86 171.6,128.83 172.1,128.79 172.6,128.76 173.1,128.74 173.6,128.72 174.1,128.71 174.6,128.70 175.1,128.70 175.6,128.70 176.1,128.70 176.6,128.70 177.1,128.71 177.6,128.71 178.1,128.72 178.6,128.72 179.1,128.73 179.6,128.74 180.1,128.74 180.6,128.75 181.1,128.76 181.6,128.77 182.1,128.78 182.6,128.79 183.1,128.80 183.6,128.82 184.1,128.83 184.6,128.84 185.1,128.85 185.6,128.87 186.1,128.88 186.6,128.90 187.1,128.91 187.6,128.93 188.1,128.94 188.6,128.96 189.1,128.97 189.6,128.99 190.1,129.00 190.6,129.02 191.1,129.04 191.6,129.07 192.1,129.09 192.6,129.12 193.1,129.15 193.6,129.19 194.1,129.22 194.6,129.26 195.1,129.30 195.6,129.34 196.1,129.38 196.6,129.42 197.1,129.47 197.6,129.51 198.1,129.56 198.6,129.61 199.1,129.65 199.6,129.70 200.1,129.75 200.6,129.80 201.1,129.85 201.6,129.89 202.1,129.94 202.6,129.99 203.1,130.03 203.6,130.08 204.1,130.12 204.6,130.17 205.1,130.21 205.6,130.25 206.1,130.29 206.6,130.33 207.1,130.38 207.6,130.42 208.1,130.46 208.6,130.50 209.1,130.55 209.6,130.59 210.1,130.63 210.6,130.68 211.1,130.72 211.6,130.76 212.1,130.81 212.6,130.85 213.1,130.90 213.6,130.94 214.1,130.98 214.6,131.03 215.1,131.07 215.6,131.12 216.1,131.16 216.6,131.20 217.1,131.25 217.6,131.29 218.1,131.33 218.6,131.38 219.1,131.42 219.6,131.47 220.1,131.51 220.6,131.55 221.1,131.60 221.6,131.64 222.1,131.68 222.6,131.73 223.1,131.77 223.6,131.82 224.1,131.86 224.6,131.91 225.1,131.95 225.6,132.00 226.1,132.05 226.6,132.09 227.1,132.14 227.6,132.18 228.1,132.22 228.6,132.27 229.1,132.31 229.6,132.36 230.1,132.40 230.6,132.44 231.1,132.49 231.6,132.53 232.1,132.57 232.6,132.61 233.1,132.65 233.6,132.69 234.1,132.73 234.6,132.77 235.1,132.81 235.6,132.84 236.1,132.88 236.6,132.92 237.1,132.95 237.6,132.99 238.1,133.02 238.6,133.05 239.1,133.09 239.6,133.12 240.1,133.15 240.6,133.18 241.1,133.22 241.6,133.25 242.1,133.28 242.6,133.31 243.1,133.34 243.6,133.37 244.1,133.41 244.6,133.44 245.1,133.47 245.6,133.50 246.1,133.53 246.6,133.57 247.1,133.60 247.6,133.63 248.1,133.67 248.6,133.70 249.1,133.74 249.6,133.77 250.1,133.81 250.6,133.84 251.1,133.88 251.6,133.92 252.1,133.96 252.6,134.00 253.1,134.03 253.6,134.07 254.1,134.11 254.6,134.15 255.1,134.19 255.6,134.23 256.1,134.27 256.6,134.31 257.1,134.35 257.6,134.39 258.1,134.44 258.6,134.48 259.1,134.52 259.6,134.56 260.1,134.60 260.6,134.64 261.1,134.68 261.6,134.72 262.1,134.76 262.6,134.81 263.1,134.85 263.6,134.89 264.1,134.93 264.6,134.97 265.1,135.01 265.6,135.05 266.1,135.09 266.6,135.13 267.1,135.17 267.6,135.21 268.1,135.25 268.6,135.30 269.1,135.34 269.6,135.38 270.1,135.42 270.6,135.46 271.1,135.50 271.6,135.55 272.1,135.59 272.6,135.63 273.1,135.67 273.6,135.71 274.1,135.75 274.6,135.79 275.1,135.83 275.6,135.87 276.1,135.91 276.6,135.95 277.1,135.99 277.6,136.03 278.1,136.06 278.6,136.10 279.1,136.14 279.6,136.17 280.1,136.21 280.6,136.24 281.1,136.27 281.6,136.31 282.1,136.34 282.6,136.37 283.1,136.40 283.6,136.43 284.1,136.46 284.6,136.48 285.1,136.51 285.6,136.54 286.1,136.57 286.6,136.59 287.1,136.62 287.6,136.64 288.1,136.67 288.6,136.70 289.1,136.72 289.6,136.75 290.1,136.78 290.6,136.80 291.1,136.83 291.6,136.85 292.1,136.88 292.6,136.91 293.1,136.94 293.6,136.97 294.1,137.00 294.6,137.02 295.1,137.06 295.6,137.09 296.1,137.12 296.6,137.15 297.1,137.18 297.6,137.22 298.1,137.25 298.6,137.29 299.1,137.33 299.6,137.37 300.1,137.41 300.6,137.45 301.1,137.50 301.6,137.54 302.1,137.59 302.6,137.65 303.1,137.70 303.6,137.76 304.1,137.81 304.6,137.87 305.1,137.94 305.6,138.00 306.1,138.06 306.6,138.13 307.1,138.20 307.6,138.26 308.1,138.33 308.6,138.40 309.1,138.47 309.6,138.54 310.1,138.61 310.6,138.68 311.1,138.76 311.6,138.83 312.1,138.90 312.6,138.97 313.1,139.04 313.6,139.11 314.1,139.18 314.6,139.25 315.1,139.31 315.6,139.38 316.1,139.45 316.6,139.51 317.1,139.57 317.6,139.63 318.1,139.69 318.6,139.75 319.1,139.81 319.6,139.86 320.1,139.91 320.6,139.96 321.1,140.01 321.6,140.06 322.1,140.11 322.6,140.15 323.1,140.20 323.6,140.25 324.1,140.29 324.6,140.34 325.1,140.38 325.6,140.43 326.1,140.47 326.6,140.51 327.1,140.56 327.6,140.60 328.1,140.64 328.6,140.68 329.1,140.72 329.6,140.76 330.1,140.80 330.6,140.84 331.1,140.88 331.6,140.92 332.1,140.96 332.6,141.00 333.1,141.04 333.6,141.08 334.1,141.12 334.6,141.16 335.1,141.20 335.6,141.24 336.1,141.28 336.6,141.32 337.1,141.36 337.6,141.40 338.1,141.44 338.6,141.47 339.1,141.51 339.6,141.55 340.1,141.59 340.6,141.63 341.1,141.67 341.6,141.71 342.1,141.76 342.6,141.80 343.1,141.84 343.6,141.88 344.1,141.92 344.6,141.97 345.1,142.01 345.6,142.05 346.1,142.10 346.6,142.14 347.1,142.18 347.6,142.23 348.1,142.27 348.6,142.32 349.1,142.36 349.6,142.41 350.1,142.45 350.6,142.50 351.1,142.54 351.6,142.59 352.1,142.63 352.6,142.68 353.1,142.72 353.6,142.77 354.1,142.81 354.6,142.86 355.1,142.91 355.6,142.95 356.1,143.00 356.6,143.04 357.1,143.09 357.6,143.13 358.1,143.17 358.6,143.22 359.1,143.26 359.6,143.31 360.1,143.35 360.6,143.39 361.1,143.44 361.6,143.48 362.1,143.52 362.6,143.57 363.1,143.61 363.6,143.65 364.1,143.69 364.6,143.73 365.1,143.78 365.6,143.82 366.1,143.86 366.6,143.90 367.1,143.94 367.6,143.98 368.1,144.03 368.6,144.07 369.1,144.11 369.6,144.15 370.1,144.19 370.6,144.23 371.1,144.27 371.6,144.31 372.1,144.36 372.6,144.40 373.1,144.44 373.6,144.48 374.1,144.52 374.6,144.56 375.1,144.60 375.6,144.64 376.1,144.68 376.6,144.72 377.1,144.76 377.6,144.80 378.1,144.84 378.6,144.88 379.1,144.92 379.6,144.96 380.1,145.00 380.6,145.04 381.1,145.08 381.6,145.12 382.1,145.16 382.6,145.20 383.1,145.24 383.6,145.28 384.1,145.32 384.6,145.36 385.1,145.40 385.6,145.44 386.1,145.48 386.6,145.51 387.1,145.55 387.6,145.59 388.1,145.63 388.6,145.67 389.1,145.71 389.6,145.75 390.1,145.78 390.6,145.82 391.1,145.86 391.6,145.90 392.1,145.94 392.6,145.97 393.1,146.01 393.6,146.05 394.1,146.09 394.6,146.12 395.1,146.16 395.6,146.20 396.1,146.23 396.6,146.27 397.1,146.31 397.6,146.35 398.1,146.38 398.6,146.42 399.1,146.45 399.6,146.49 400.1,146.53 400.6,146.56 401.1,146.60 401.6,146.64 402.1,146.67" stroke="#d62728" stroke-dasharray="6.3,2.7"/>
<path d="M57.6,98.00 58.1,99.49 58.6,100.97 59.1,102.43 59.6,103.86 60.1,105.28 60.6,106.70 61.1,108.09 61.6,109.45 62.1,110.76 62.6,112.02 63.1,113.27 63.6,114.49 64.1,115.69 64.6,116.86 65.1,118.00 65.6,119.12 66.1,120.22 66.6,121.29 67.1,122.35 67.6,123.39 68.1,124.41 68.6,125.40 69.1,126.36 69.6,127.28 70.1,128.18 70.6,129.05 71.1,129.92 71.6,130.78 72.1,131.62 72.6,132.43 73.1,133.21 73.6,133.95 74.1,134.66 74.6,135.31 75.1,135.92 75.6,136.49 76.1,137.04 76.6,137.56 77.1,138.06 77.6,138.54 78.1,138.99 78.6,139.42 79.1,139.83 79.6,140.21 80.1,140.57 80.6,140.92 81.1,141.26 81.6,141.60 82.1,141.93 82.6,142.24 83.1,142.54 83.6,142.82 84.1,143.08 84.6,143.31 85.1,143.51 85.6,143.69 86.1,143.83 86.6,143.95 87.1,144.08 87.6,144.20 88.1,144.31 88.6,144.41 89.1,144.51 89.6,144.60 90.1,144.67 90.6,144.73 91.1,144.77 91.6,144.79 92.1,144.80 92.6,144.79 93.1,144.77 93.6,144.73 94.1,144.69 94.6,144.65 95.1,144.60 95.6,144.54 96.1,144.49 96.6,144.43 97.1,144.35 97.6,144.26 98.1,144.17 98.6,144.07 99.1,143.97 99.6,143.87 100.1,143.78 100.6,143.69 101.1,143.61 101.6,143.52 102.1,143.43 102.6,143.35 103.1,143.26 103.6,143.17 104.1,143.07 104.6,142.98 105.1,142.88 105.6,142.78 106.1,142.68 106.6,142.57 107.1,142.46 107.6,142.35 108.1,142.24 108.6,142.13 109.1,142.01 109.6,141.89 110.1,141.78 110.6,141.66 111.1,141.53 111.6,141.41 112.1,141.28 112.6,141.15 113.1,141.02 113.6,140.88 114.1,140.75 114.6,140.62 115.1,140.49 115.6,140.36 116.1,140.23 116.6,140.10 117.1,139.98 117.6,139.85 118.1,139.73 118.6,139.62 119.1,139.50 119.6,139.39 120.1,139.27 120.6,139.16 121.1,139.05 121.6,138.93 122.1,138.82 122.6,138.70 123.1,138.58 123.6,138.46 124.1,138.33 124.6,138.21 125.1,138.07 125.6,137.94 126.1,137.80 126.6,137.65 127.1,137.50 127.6,137.35 128.1,137.20 128.6,137.04 129.1,136.89 129.6,136.73 130.1,136.58 130.6,136.42 131.1,136.27 131.6,136.12 132.1,135.97 132.6,135.82 133.1,135.68 133.6,135.53 134.1,135.38 134.6,135.23 135.1,135.09 135.6,134.94 136.1,134.80 136.6,134.65 137.1,134.51 137.6,134.36 138.1,134.22 138.6,134.08 139.1,133.94 139.6,133.81 140.1,133.67 140.6,133.54 141.1,133.40 141.6,133.27 142.1,133.13 142.6,133.00 143.1,132.87 143.6,132.73 144.1,132.60 144.6,132.47 145.1,132.34 145.6,132.21 146.1,132.09 146.6,131.97 147.1,131.84 147.6,131.73 148.1,131.61 148.6,131.50 149.1,131.39 149.6,131.28 150.1,131.18 150.6,131.08 151.1,130.98 151.6,130.89 152.1,130.79 152.6,130.70 153.1,130.61 153.6,130.52 154.1,130.43 154.6,130.35 155.1,130.26 155.6,130.18 156.1,130.10 156.6,130.02 157.1,129.94 157.6,129.86 158.1,129.78 158.6,129.71 159.1,129.63 159.6,129.56 160.1,129.49 160.6,129.41 161.1,129.33 161.6,129.25 162.1,129.17 162.6,129.09 163.1,129.01 163.6,128.93 164.1,128.84 164.6,128.76 165.1,128.68 165.6,128.60 166.1,128.52 166.6,128.44 167.1,128.36 167.6,128.28 168.1,128.21 168.6,128.14 169.1,128.07 169.6,128.01 170.1,127.95 170.6,127.89 171.1,127.84 171.6,127.79 172.1,127.74 172.6,127.70 173.1,127.67 173.6,127.64 174.1,127.62 174.6,127.61 175.1,127.60 175.6,127.59 176.1,127.59 176.6,127.58 177.1,127.57 177.6,127.57 178.1,127.56 178.6,127.56 179.1,127.55 179.6,127.55 180.1,127.55 180.6,127.54 181.1,127.54 181.6,127.53 182.1,127.53 182.6,127.53 183.1,127.52 183.6,127.52 184.1,127.52 184.6,127.51 185.1,127.51 185.6,127.51 186.1,127.51 186.6,127.51 187.1,127.50 187.6,127.50 188.1,127.50 188.6,127.50 189.1,127.50 189.6,127.50 190.1,127.50 190.6,127.50 191.1,127.51 191.6,127.52 192.1,127.54 192.6,127.56 193.1,127.58 193.6,127.61 194.1,127.64 194.6,127.67 195.1,127.70 195.6,127.74 196.1,127.78 196.6,127.82 197.1,127.87 197.6,127.91 198.1,127.96 198.6,128.00 199.1,128.05 199.6,128.10 200.1,128.15 200.6,128.20 201.1,128.25 201.6,128.29 202.1,128.34 202.6,128.39 203.1,128.44 203.6,128.48 204.1,128.53 204.6,128.57 205.1,128.61 205.6,128.65 206.1,128.69 206.6,128.73 207.1,128.77 207.6,128.82 208.1,128.86 208.6,128.91 209.1,128.95 209.6,129.00 210.1,129.04 210.6,129.09 211.1,129.14 211.6,129.18 212.1,129.23 212.6,129.28 213.1,129.32 213.6,129.37 214.1,129.41 214.6,129.46 215.1,129.50 215.6,129.55 216.1,129.59 216.6,129.63 217.1,129.68 217.6,129.72 218.1,129.76 218.6,129.80 219.1,129.83 219.6,129.87 220.1,129.91 220.6,129.94 221.1,129.98 221.6,130.01 222.1,130.04 222.6,130.07 223.1,130.10 223.6,130.13 224.1,130.16 224.6,130.19 225.1,130.21 225.6,130.24 226.1,130.27 226.6,130.29 227.1,130.32 227.6,130.35 228.1,130.37 228.6,130.40 229.1,130.43 229.6,130.46 230.1,130.48 230.6,130.51 231.1,130.54 231.6,130.57 232.1,130.60 232.6,130.63 233.1,130.67 233.6,130.70 234.1,130.73 234.6,130.77 235.1,130.81 235.6,130.85 236.1,130.89 236.6,130.93 237.1,130.97 237.6,131.02 238.1,131.06 238.6,131.11 239.1,131.16 239.6,131.20 240.1,131.25 240.6,131.31 241.1,131.36 241.6,131.41 242.1,131.46 242.6,131.51 243.1,131.57 243.6,131.62 244.1,131.67 244.6,131.73 245.1,131.78 245.6,131.84 246.1,131.89 246.6,131.95 247.1,132.00 247.6,132.05 248.1,132.10 248.6,132.16 249.1,132.21 249.6,132.26 250.1,132.31 250.6,132.36 251.1,132.41 251.6,132.46 252.1,132.51 252.6,132.56 253.1,132.61 253.6,132.66 254.1,132.70 254.6,132.75 255.1,132.80 255.6,132.85 256.1,132.90 256.6,132.95 257.1,133.00 257.6,133.05 258.1,133.10 258.6,133.15 259.1,133.20 259.6,133.25 260.1,133.30 260.6,133.35 261.1,133.40 261.6,133.45 262.1,133.50 262.6,133.55 263.1,133.60 263.6,133.65 264.1,133.71 264.6,133.76 265.1,133.81 265.6,133.86 266.1,133.92 266.6,133.97 267.1,134.03 267.6,134.09 268.1,134.14 268.6,134.20 269.1,134.26 269.6,134.32 270.1,134.38 270.6,134.44 271.1,134.49 271.6,134.55 272.1,134.61 272.6,134.67 273.1,134.73 273.6,134.79 274.1,134.85 274.6,134.91 275.1,134.96 275.6,135.02 276.1,135.08 276.6,135.14 277.1,135.19 277.6,135.25 278.1,135.30 278.6,135.35 279.1,135.41 279.6,135.46 280.1,135.51 280.6,135.56 281.1,135.61 281.6,135.66 282.1,135.70 282.6,135.75 283.1,135.80 283.6,135.84 284.1,135.88 284.6,135.93 285.1,135.97 285.6,136.01 286.1,136.06 286.6,136.10 287.1,136.14 287.6,136.18 288.1,136.22 288.6,136.26 289.1,136.30 289.6,136.35 290.1,136.39 290.6,136.43 291.1,136.47 291.6,136.51 292.1,136.55 292.6,136.60 293.1,136.64 293.6,136.68 294.1,136.72 294.6,136.77 295.1,136.81 295.6,136.86 296.1,136.91 296.6,136.95 297.1,137.00 297.6,137.05 298.1,137.10 298.6,137.15 299.1,137.20 299.6,137.26 300.1,137.31 300.6,137.37 301.1,137.42 301.6,137.48 302.1,137.55 302.6,137.61 303.1,137.67 303.6,137.74 304.1,137.81 304.6,137.87 305.1,137.94 305.6,138.01 306.1,138.08 306.6,138.16 307.1,138.23 307.6,138.30 308.1,138.38 308.6,138.45 309.1,138.53 309.6,138.60 310.1,138.68 310.6,138.75 311.1,138.83 311.6,138.90 312.1,138.98 312.6,139.06 313.1,139.13 313.6,139.21 314.1,139.28 314.6,139.35 315.1,139.43 315.6,139.50 316.1,139.57 316.6,139.64 317.1,139.71 317.6,139.78 318.1,139.85 318.6,139.92 319.1,139.99 319.6,140.05 320.1,140.11 320.6,140.17 321.1,140.24 321.6,140.30 322.1,140.36 322.6,140.42 323.1,140.47 323.6,140.53 324.1,140.59 324.6,140.65 325.1,140.70 325.6,140.76 326.1,140.81 326.6,140.87 327.1,140.92 327.6,140.98 328.1,141.03 328.6,141.09 329.1,141.14 329.6,141.19 330.1,141.25 330.6,141.30 331.1,141.35 331.6,141.41 332.1,141.46 332.6,141.51 333.1,141.56 333.6,141.62 334.1,141.67 334.6,141.72 335.1,141.78 335.6,141.83 336.1,141.88 336.6,141.94 337.1,141.99 337.6,142.04 338.1,142.10 338.6,142.15 339.1,142.21 339.6,142.26 340.1,142.32 340.6,142.38 341.1,142.43 341.6,142.49 342.1,142.55 342.6,142.61 343.1,142.67 343.6,142.73 344.1,142.79 344.6,142.85 345.1,142.91 345.6,142.98 346.1,143.04 346.6,143.11 347.1,143.17 347.6,143.24 348.1,143.31 348.6,143.38 349.1,143.45 349.6,143.52 350.1,143.59 350.6,143.67 351.1,143.74 351.6,143.81 352.1,143.89 352.6,143.96 353.1,144.04 353.6,144.11 354.1,144.18 354.6,144.26 355.1,144.33 355.6,144.40 356.1,144.48 356.6,144.55 357.1,144.62 357.6,144.69 358.1,144.76 358.6,144.83 359.1,144.90 359.6,144.97 360.1,145.04 360.6,145.10 361.1,145.17 361.6,145.23 362.1,145.29 362.6,145.35 363.1,145.41 363.6,145.47 364.1,145.53 364.6,145.59 365.1,145.64 365.6,145.70 366.1,145.76 366.6,145.81 367.1,145.87 367.6,145.93 368.1,145.99 368.6,146.04 369.1,146.10 369.6,146.15 370.1,146.21 370.6,146.27 371.1,146.32 371.6,146.38 372.1,146.43 372.6,146.49 373.1,146.54 373.6,146.59 374.1,146.65 374.6,146.70 375.1,146.76 375.6,146.81 376.1,146.86 376.6,146.92 377.1,146.97 377.6,147.02 378.1,147.07 378.6,147.12 379.1,147.18 379.6,147.23 380.1,147.28 380.6,147.33 381.1,147.38 381.6,147.43 382.1,147.48 382.6,147.53 383.1,147.58 383.6,147.63 384.1,147.68 384.6,147.72 385.1,147.77 385.6,147.82 386.1,147.87 386.6,147.91 387.1,147.96 387.6,148.01 388.1,148.05 388.6,148.10 389.1,148.14 389.6,148.19 390.1,148.23 390.6,148.28 391.1,148.32 391.6,148.36 392.1,148.41 392.6,148.45 393.1,148.49 393.6,148.53 394.1,148.57 394.6,148.61 395.1,148.65 395.6,148.69 396.1,148.73 396.6,148.77 397.1,148.81 397.6,148.85 398.1,148.89 398.6,148.92 399.1,148.96 399.6,149.00 400.1,149.03 400.6,149.07 401.1,149.10 401.6,149.14 402.1,149.17" stroke="#9467bd" stroke-dasharray="6.3,2.7"/>
<path d="M57.6,87.00 58.1,89.17 58.6,91.30 59.1,93.39 59.6,95.42 60.1,97.39 60.6,99.34 61.1,101.26 61.6,103.14 62.1,104.95 62.6,106.69 63.1,108.32 63.6,109.86 64.1,111.34 64.6,112.75 65.1,114.12 65.6,115.46 66.1,116.76 66.6,118.04 67.1,119.31 67.6,120.55 68.1,121.76 68.6,122.93 69.1,124.07 69.6,125.16 70.1,126.21 70.6,127.23 71.1,128.23 71.6,129.22 72.1,130.18 72.6,131.12 73.1,132.01 73.6,132.87 74.1,133.68 74.6,134.43 75.1,135.14 75.6,135.80 76.1,136.44 76.6,137.06 77.1,137.65 77.6,138.21 78.1,138.74 78.6,139.25 79.1,139.72 79.6,140.17 80.1,140.58 80.6,140.98 81.1,141.37 81.6,141.75 82.1,142.12 82.6,142.47 83.1,142.80 83.6,143.12 84.1,143.41 84.6,143.68 85.1,143.93 85.6,144.15 86.1,144.34 86.6,144.52 87.1,144.70 87.6,144.87 88.1,145.04 88.6,145.20 89.1,145.35 89.6,145.48 90.1,145.59 90.6,145.68 91.1,145.75 91.6,145.79 92.1,145.80 92.6,145.80 93.1,145.79 93.6,145.78 94.1,145.77 94.6,145.75 95.1,145.74 95.6,145.72 96.1,145.70 96.6,145.66 97.1,145.60 97.6,145.53 98.1,145.44 98.6,145.35 99.1,145.26 99.6,145.17 100.1,145.08 100.6,145.00 101.1,144.92 101.6,144.83 102.1,144.75 102.6,144.66 103.1,144.57 103.6,144.48 104.1,144.38 104.6,144.28 105.1,144.18 105.6,144.07 106.1,143.96 106.6,143.85 107.1,143.73 107.6,143.61 108.1,143.49 108.6,143.36 109.1,143.23 109.6,143.10 110.1,142.97 110.6,142.84 111.1,142.71 111.6,142.57 112.1,142.42 112.6,142.28 113.1,142.14 113.6,141.99 114.1,141.84 114.6,141.69 115.1,141.55 115.6,141.40 116.1,141.26 116.6,141.11 117.1,140.97 117.6,140.83 118.1,140.70 118.6,140.56 119.1,140.43 119.6,140.30 120.1,140.16 120.6,140.03 121.1,139.90 121.6,139.77 122.1,139.63 122.6,139.49 123.1,139.35 123.6,139.21 124.1,139.07 124.6,138.92 125.1,138.77 125.6,138.61 126.1,138.45 126.6,138.28 127.1,138.11 127.6,137.94 128.1,137.77 128.6,137.59 129.1,137.41 129.6,137.23 130.1,137.06 130.6,136.88 131.1,136.71 131.6,136.53 132.1,136.37 132.6,136.20 133.1,136.03 133.6,135.87 134.1,135.70 134.6,135.53 135.1,135.37 135.6,135.20 136.1,135.04 136.6,134.88 137.1,134.72 137.6,134.55 138.1,134.39 138.6,134.24 139.1,134.08 139.6,133.92 140.1,133.77 140.6,133.62 141.1,133.46 141.6,133.31 142.1,133.15 142.6,132.99 143.1,132.84 143.6,132.69 144.1,132.53 144.6,132.38 145.1,132.23 145.6,132.08 146.1,131.94 146.6,131.79 147.1,131.65 147.6,131.51 148.1,131.38 148.6,131.25 149.1,131.12 149.6,131.00 150.1,130.88 150.6,130.76 151.1,130.64 151.6,130.53 152.1,130.41 152.6,130.30 153.1,130.19 153.6,130.08 154.1,129.97 154.6,129.86 155.1,129.76 155.6,129.66 156.1,129.56 156.6,129.47 157.1,129.37 157.6,129.28 158.1,129.20 158.6,129.11 159.1,129.03 159.6,128.96 160.1,128.89 160.6,128.81 161.1,128.74 161.6,128.67 162.1,128.60 162.6,128.53 163.1,128.46 163.6,128.39 164.1,128.33 164.6,128.26 165.1,128.19 165.6,128.13 166.1,128.07 166.6,128.00 167.1,127.94 167.6,127.89 168.1,127.83 168.6,127.77 169.1,127.72 169.6,127.67 170.1,127.62 170.6,127.58 171.1,127.53 171.6,127.49 172.1,127.46 172.6,127.42 173.1,127.39 173.6,127.36 174.1,127.34 174.6,127.31 175.1,127.30 175.6,127.28 176.1,127.26 176.6,127.25 177.1,127.23 177.6,127.22 178.1,127.20 178.6,127.19 179.1,127.17 179.6,127.16 180.1,127.14 180.6,127.13 181.1,127.12 181.6,127.11 182.1,127.10 182.6,127.08 183.1,127.07 183.6,127.06 184.1,127.06 184.6,127.05 185.1,127.04 185.6,127.03 186.1,127.03 186.6,127.02 187.1,127.01 187.6,127.01 188.1,127.01 188.6,127.00 189.1,127.00 189.6,127.00 190.1,127.00 190.6,127.00 191.1,127.01 191.6,127.01 192.1,127.02 192.6,127.03 193.1,127.04 193.6,127.05 194.1,127.07 194.6,127.09 195.1,127.10 195.6,127.12 196.1,127.14 196.6,127.16 197.1,127.19 197.6,127.21 198.1,127.24 198.6,127.26 199.1,127.29 199.6,127.31 200.1,127.34 200.6,127.37 201.1,127.39 201.6,127.42 202.1,127.45 202.6,127.47 203.1,127.50 203.6,127.53 204.1,127.55 204.6,127.58 205.1,127.61 205.6,127.63 206.1,127.66 206.6,127.68 207.1,127.71 207.6,127.74 208.1,127.77 208.6,127.80 209.1,127.83 209.6,127.86 210.1,127.90 210.6,127.93 211.1,127.96 211.6,128.00 212.1,128.03 212.6,128.06 213.1,128.10 213.6,128.13 214.1,128.17 214.6,128.21 215.1,128.24 215.6,128.28 216.1,128.31 216.6,128.35 217.1,128.39 217.6,128.42 218.1,128.46 218.6,128.50 219.1,128.53 219.6,128.57 220.1,128.61 220.6,128.64 221.1,128.68 221.6,128.72 222.1,128.75 222.6,128.79 223.1,128.83 223.6,128.87 224.1,128.91 224.6,128.94 225.1,128.98 225.6,129.02 226.1,129.06 226.6,129.10 227.1,129.14 227.6,129.18 228.1,129.22 228.6,129.26 229.1,129.30 229.6,129.34 230.1,129.38 230.6,129.42 231.1,129.46 231.6,129.51 232.1,129.55 232.6,129.59 233.1,129.63 233.6,129.68 234.1,129.72 234.6,129.76 235.1,129.81 235.6,129.85 236.1,129.90 236.6,129.94 237.1,129.99 237.6,130.04 238.1,130.08 238.6,130.13 239.1,130.18 239.6,130.23 240.1,130.27 240.6,130.32 241.1,130.37 241.6,130.42 242.1,130.47 242.6,130.52 243.1,130.57 243.6,130.62 244.1,130.67 244.6,130.73 245.1,130.78 245.6,130.83 246.1,130.88 246.6,130.93 247.1,130.99 247.6,131.04 248.1,131.09 248.6,131.15 249.1,131.20 249.6,131.26 250.1,131.31 250.6,131.37 251.1,131.42 251.6,131.48 252.1,131.53 252.6,131.59 253.1,131.65 253.6,131.71 254.1,131.76 254.6,131.82 255.1,131.88 255.6,131.94 256.1,132.00 256.6,132.06 257.1,132.12 257.6,132.18 258.1,132.24 258.6,132.30 259.1,132.36 259.6,132.42 260.1,132.49 260.6,132.55 261.1,132.61 261.6,132.67 262.1,132.74 262.6,132.80 263.1,132.86 263.6,132.92 264.1,132.99 264.6,133.05 265.1,133.11 265.6,133.18 266.1,133.24 266.6,133.31 267.1,133.37 267.6,133.44 268.1,133.51 268.6,133.58 269.1,133.64 269.6,133.71 270.1,133.78 270.6,133.85 271.1,133.92 271.6,133.99 272.1,134.06 272.6,134.13 273.1,134.20 273.6,134.27 274.1,134.34 274.6,134.40 275.1,134.47 275.6,134.54 276.1,134.61 276.6,134.67 277.1,134.74 277.6,134.80 278.1,134.87 278.6,134.93 279.1,134.99 279.6,135.05 280.1,135.11 280.6,135.17 281.1,135.23 281.6,135.28 282.1,135.34 282.6,135.39 283.1,135.45 283.6,135.50 284.1,135.55 284.6,135.60 285.1,135.65 285.6,135.71 286.1,135.76 286.6,135.80 287.1,135.85 287.6,135.90 288.1,135.95 288.6,136.00 289.1,136.05 289.6,136.10 290.1,136.15 290.6,136.19 291.1,136.24 291.6,136.29 292.1,136.34 292.6,136.39 293.1,136.44 293.6,136.49 294.1,136.54 294.6,136.59 295.1,136.65 295.6,136.70 296.1,136.75 296.6,136.81 297.1,136.86 297.6,136.92 298.1,136.97 298.6,137.03 299.1,137.09 299.6,137.15 300.1,137.21 300.6,137.28 301.1,137.34 301.6,137.40 302.1,137.47 302.6,137.54 303.1,137.61 303.6,137.68 304.1,137.75 304.6,137.82 305.1,137.90 305.6,137.97 306.1,138.05 306.6,138.12 307.1,138.20 307.6,138.28 308.1,138.35 308.6,138.43 309.1,138.51 309.6,138.59 310.1,138.67 310.6,138.75 311.1,138.83 311.6,138.91 312.1,138.99 312.6,139.07 313.1,139.14 313.6,139.22 314.1,139.30 314.6,139.38 315.1,139.46 315.6,139.54 316.1,139.62 316.6,139.69 317.1,139.77 317.6,139.85 318.1,139.92 318.6,140.00 319.1,140.07 319.6,140.14 320.1,140.21 320.6,140.29 321.1,140.36 321.6,140.43 322.1,140.50 322.6,140.57 323.1,140.63 323.6,140.70 324.1,140.77 324.6,140.84 325.1,140.91 325.6,140.98 326.1,141.04 326.6,141.11 327.1,141.18 327.6,141.24 328.1,141.31 328.6,141.38 329.1,141.44 329.6,141.51 330.1,141.57 330.6,141.64 331.1,141.71 331.6,141.77 332.1,141.84 332.6,141.90 333.1,141.97 333.6,142.04 334.1,142.10 334.6,142.17 335.1,142.24 335.6,142.30 336.1,142.37 336.6,142.43 337.1,142.50 337.6,142.57 338.1,142.64 338.6,142.70 339.1,142.77 339.6,142.84 340.1,142.91 340.6,142.98 341.1,143.05 341.6,143.12 342.1,143.19 342.6,143.26 343.1,143.33 343.6,143.40 344.1,143.47 344.6,143.54 345.1,143.61 345.6,143.69 346.1,143.76 346.6,143.83 347.1,143.91 347.6,143.98 348.1,144.06 348.6,144.13 349.1,144.21 349.6,144.29 350.1,144.36 350.6,144.44 351.1,144.51 351.6,144.59 352.1,144.67 352.6,144.75 353.1,144.82 353.6,144.90 354.1,144.98 354.6,145.06 355.1,145.14 355.6,145.22 356.1,145.29 356.6,145.37 357.1,145.45 357.6,145.53 358.1,145.61 358.6,145.69 359.1,145.77 359.6,145.85 360.1,145.93 360.6,146.01 361.1,146.09 361.6,146.17 362.1,146.25 362.6,146.34 363.1,146.42 363.6,146.50 364.1,146.58 364.6,146.67 365.1,146.75 365.6,146.84 366.1,146.93 366.6,147.02 367.1,147.10 367.6,147.19 368.1,147.28 368.6,147.36 369.1,147.45 369.6,147.53 370.1,147.61 370.6,147.69 371.1,147.77 371.6,147.84 372.1,147.91 372.6,147.98 373.1,148.05 373.6,148.12 374.1,148.19 374.6,148.26 375.1,148.33 375.6,148.40 376.1,148.47 376.6,148.54 377.1,148.61 377.6,148.67 378.1,148.74 378.6,148.81 379.1,148.87 379.6,148.94 380.1,149.01 380.6,149.07 381.1,149.14 381.6,149.20 382.1,149.27 382.6,149.33 383.1,149.39 383.6,149.46 384.1,149.52 384.6,149.58 385.1,149.64 385.6,149.70 386.1,149.76 386.6,149.82 387.1,149.88 387.6,149.94 388.1,150.00 388.6,150.06 389.1,150.12 389.6,150.17 390.1,150.23 390.6,150.29 391.1,150.34 391.6,150.39 392.1,150.45 392.6,150.50 393.1,150.55 393.6,150.61 394.1,150.66 394.6,150.71 395.1,150.76 395.6,150.81 396.1,150.85 396.6,150.90 397.1,150.95 397.6,150.99 398.1,151.04 398.6,151.08 399.1,151.13 399.6,151.17 400.1,151.21 400.6,151.25 401.1,151.29 401.6,151.33 402.1,151.37" stroke="#8c564b" stroke-dasharray="6.3,2.7"/>
<path d="M57.6,76.00 58.1,78.56 58.6,81.09 59.1,83.59 59.6,86.05 60.1,88.48 60.6,90.90 61.1,93.30 61.6,95.67 62.1,97.99 62.6,100.25 63.1,102.43 63.6,104.55 64.1,106.63 64.6,108.66 65.1,110.62 65.6,112.53 66.1,114.36 66.6,116.18 67.1,117.98 67.6,119.75 68.1,121.46 68.6,123.09 69.1,124.60 69.6,125.99 70.1,127.23 70.6,128.38 71.1,129.46 71.6,130.46 72.1,131.41 72.6,132.31 73.1,133.17 73.6,134.01 74.1,134.83 74.6,135.62 75.1,136.39 75.6,137.12 76.1,137.81 76.6,138.46 77.1,139.06 77.6,139.61 78.1,140.12 78.6,140.61 79.1,141.08 79.6,141.52 80.1,141.94 80.6,142.33 81.1,142.70 81.6,143.04 82.1,143.36 82.6,143.67 83.1,143.97 83.6,144.25 84.1,144.52 84.6,144.76 85.1,144.98 85.6,145.17 86.1,145.33 86.6,145.48 87.1,145.62 87.6,145.76 88.1,145.90 88.6,146.03 89.1,146.14 89.6,146.25 90.1,146.34 90.6,146.41 91.1,146.46 91.6,146.49 92.1,146.50 92.6,146.50 93.1,146.49 93.6,146.48 94.1,146.47 94.6,146.45 95.1,146.44 95.6,146.42 96.1,146.40 96.6,146.36 97.1,146.32 97.6,146.26 98.1,146.19 98.6,146.11 99.1,146.04 99.6,145.96 100.1,145.89 100.6,145.81 101.1,145.73 101.6,145.65 102.1,145.56 102.6,145.47 103.1,145.38 103.6,145.29 104.1,145.19 104.6,145.08 105.1,144.98 105.6,144.87 106.1,144.75 106.6,144.63 107.1,144.50 107.6,144.36 108.1,144.23 108.6,144.09 109.1,143.95 109.6,143.81 110.1,143.67 110.6,143.53 111.1,143.39 111.6,143.24 112.1,143.09 112.6,142.94 113.1,142.79 113.6,142.63 114.1,142.48 114.6,142.33 115.1,142.17 115.6,142.02 116.1,141.87 116.6,141.72 117.1,141.57 117.6,141.43 118.1,141.28 118.6,141.15 119.1,141.01 119.6,140.87 120.1,140.74 120.6,140.60 121.1,140.46 121.6,140.33 122.1,140.19 122.6,140.04 123.1,139.90 123.6,139.75 124.1,139.59 124.6,139.43 125.1,139.27 125.6,139.09 126.1,138.91 126.6,138.72 127.1,138.53 127.6,138.33 128.1,138.13 128.6,137.92 129.1,137.71 129.6,137.50 130.1,137.29 130.6,137.08 131.1,136.87 131.6,136.66 132.1,136.46 132.6,136.25 133.1,136.05 133.6,135.84 134.1,135.63 134.6,135.41 135.1,135.20 135.6,134.99 136.1,134.78 136.6,134.56 137.1,134.36 137.6,134.15 138.1,133.94 138.6,133.74 139.1,133.54 139.6,133.35 140.1,133.16 140.6,132.98 141.1,132.79 141.6,132.61 142.1,132.43 142.6,132.25 143.1,132.07 143.6,131.90 144.1,131.72 144.6,131.55 145.1,131.38 145.6,131.21 146.1,131.05 146.6,130.88 147.1,130.72 147.6,130.56 148.1,130.40 148.6,130.24 149.1,130.08 149.6,129.92 150.1,129.77 150.6,129.61 151.1,129.46 151.6,129.30 152.1,129.14 152.6,128.98 153.1,128.82 153.6,128.66 154.1,128.50 154.6,128.35 155.1,128.20 155.6,128.05 156.1,127.90 156.6,127.77 157.1,127.63 157.6,127.50 158.1,127.38 158.6,127.27 159.1,127.17 159.6,127.07 160.1,126.98 160.6,126.90 161.1,126.81 161.6,126.73 162.1,126.64 162.6,126.56 163.1,126.48 163.6,126.40 164.1,126.32 164.6,126.25 165.1,126.18 165.6,126.11 166.1,126.05 166.6,125.99 167.1,125.94 167.6,125.90 168.1,125.86 168.6,125.84 169.1,125.82 169.6,125.80 170.1,125.80 170.6,125.80 171.1,125.80 171.6,125.80 172.1,125.80 172.6,125.80 173.1,125.80 173.6,125.80 174.1,125.80 174.6,125.80 175.1,125.80 175.6,125.80 176.1,125.80 176.6,125.80 177.1,125.80 177.6,125.80 178.1,125.80 178.6,125.80 179.1,125.80 179.6,125.80 180.1,125.80 180.6,125.80 181.1,125.81 181.6,125.82 182.1,125.84 182.6,125.86 183.1,125.88 183.6,125.91 184.1,125.94 184.6,125.96 185.1,126.00 185.6,126.03 186.1,126.06 186.6,126.09 187.1,126.13 187.6,126.16 188.1,126.19 188.6,126.22 189.1,126.25 189.6,126.28 190.1,126.30 190.6,126.33 191.1,126.35 191.6,126.38 192.1,126.40 192.6,126.43 193.1,126.45 193.6,126.47 194.1,126.50 194.6,126.52 195.1,126.55 195.6,126.57 196.1,126.59 196.6,126.62 197.1,126.64 197.6,126.66 198.1,126.69 198.6,126.71 199.1,126.73 199.6,126.76 200.1,126.78 200.6,126.80 201.1,126.83 201.6,126.85 202.1,126.87 202.6,126.89 203.1,126.92 203.6,126.94 204.1,126.96 204.6,126.98 205.1,127.00 205.6,127.03 206.1,127.05 206.6,127.07 207.1,127.09 207.6,127.11 208.1,127.13 208.6,127.15 209.1,127.17 209.6,127.19 210.1,127.20 210.6,127.22 211.1,127.24 211.6,127.26 212.1,127.28 212.6,127.30 213.1,127.32 213.6,127.34 214.1,127.36 214.6,127.38 215.1,127.39 215.6,127.41 216.1,127.43 216.6,127.45 217.1,127.47 217.6,127.50 218.1,127.52 218.6,127.54 219.1,127.56 219.6,127.58 220.1,127.60 220.6,127.63 221.1,127.65 221.6,127.67 222.1,127.70 222.6,127.72 223.1,127.74 223.6,127.77 224.1,127.79 224.6,127.81 225.1,127.84 225.6,127.86 226.1,127.89 226.6,127.91 227.1,127.93 227.6,127.96 228.1,127.99 228.6,128.01 229.1,128.04 229.6,128.07 230.1,128.09 230.6,128.12 231.1,128.15 231.6,128.18 232.1,128.21 232.6,128.24 233.1,128.27 233.6,128.31 234.1,128.34 234.6,128.37 235.1,128.41 235.6,128.44 236.1,128.48 236.6,128.52 237.1,128.56 237.6,128.60 238.1,128.64 238.6,128.69 239.1,128.73 239.6,128.78 240.1,128.83 240.6,128.87 241.1,128.92 241.6,128.97 242.1,129.02 242.6,129.08 243.1,129.13 243.6,129.18 244.1,129.24 244.6,129.29 245.1,129.35 245.6,129.40 246.1,129.46 246.6,129.51 247.1,129.57 247.6,129.63 248.1,129.68 248.6,129.74 249.1,129.80 249.6,129.85 250.1,129.91 250.6,129.97 251.1,130.03 251.6,130.09 252.1,130.15 252.6,130.21 253.1,130.27 253.6,130.34 254.1,130.40 254.6,130.47 255.1,130.53 255.6,130.60 256.1,130.67 256.6,130.74 257.1,130.80 257.6,130.87 258.1,130.94 258.6,131.01 259.1,131.08 259.6,131.15 260.1,131.22 260.6,131.29 261.1,131.36 261.6,131.43 262.1,131.50 262.6,131.57 263.1,131.64 263.6,131.71 264.1,131.78 264.6,131.85 265.1,131.91 265.6,131.98 266.1,132.05 266.6,132.12 267.1,132.19 267.6,132.26 268.1,132.33 268.6,132.40 269.1,132.47 269.6,132.54 270.1,132.61 270.6,132.68 271.1,132.75 271.6,132.82 272.1,132.90 272.6,132.97 273.1,133.04 273.6,133.11 274.1,133.18 274.6,133.25 275.1,133.32 275.6,133.39 276.1,133.46 276.6,133.53 277.1,133.60 277.6,133.67 278.1,133.74 278.6,133.81 279.1,133.88 279.6,133.95 280.1,134.01 280.6,134.08 281.1,134.15 281.6,134.21 282.1,134.28 282.6,134.34 283.1,134.41 283.6,134.47 284.1,134.53 284.6,134.59 285.1,134.66 285.6,134.72 286.1,134.78 286.6,134.84 287.1,134.90 287.6,134.97 288.1,135.03 288.6,135.09 289.1,135.15 289.6,135.21 290.1,135.27 290.6,135.33 291.1,135.40 291.6,135.46 292.1,135.52 292.6,135.59 293.1,135.65 293.6,135.71 294.1,135.78 294.6,135.84 295.1,135.91 295.6,135.98 296.1,136.04 296.6,136.11 297.1,136.18 297.6,136.25 298.1,136.32 298.6,136.39 299.1,136.47 299.6,136.54 300.1,136.62 300.6,136.69 301.1,136.77 301.6,136.85 302.1,136.93 302.6,137.01 303.1,137.10 303.6,137.18 304.1,137.27 304.6,137.36 305.1,137.44 305.6,137.53 306.1,137.62 306.6,137.71 307.1,137.81 307.6,137.90 308.1,137.99 308.6,138.08 309.1,138.18 309.6,138.27 310.1,138.37 310.6,138.46 311.1,138.56 311.6,138.65 312.1,138.75 312.6,138.84 313.1,138.94 313.6,139.03 314.1,139.13 314.6,139.22 315.1,139.31 315.6,139.41 316.1,139.50 316.6,139.59 317.1,139.68 317.6,139.78 318.1,139.87 318.6,139.96 319.1,140.04 319.6,140.13 320.1,140.22 320.6,140.30 321.1,140.39 321.6,140.47 322.1,140.56 322.6,140.64 323.1,140.73 323.6,140.81 324.1,140.89 324.6,140.98 325.1,141.06 325.6,141.14 326.1,141.22 326.6,141.31 327.1,141.39 327.6,141.47 328.1,141.55 328.6,141.63 329.1,141.71 329.6,141.79 330.1,141.87 330.6,141.96 331.1,142.04 331.6,142.12 332.1,142.20 332.6,142.28 333.1,142.36 333.6,142.44 334.1,142.52 334.6,142.60 335.1,142.68 335.6,142.76 336.1,142.84 336.6,142.92 337.1,143.00 337.6,143.08 338.1,143.16 338.6,143.25 339.1,143.33 339.6,143.41 340.1,143.49 340.6,143.57 341.1,143.65 341.6,143.73 342.1,143.82 342.6,143.90 343.1,143.98 343.6,144.07 344.1,144.15 344.6,144.23 345.1,144.32 345.6,144.40 346.1,144.49 346.6,144.57 347.1,144.66 347.6,144.74 348.1,144.83 348.6,144.91 349.1,145.00 349.6,145.09 350.1,145.18 350.6,145.26 351.1,145.35 351.6,145.44 352.1,145.52 352.6,145.61 353.1,145.70 353.6,145.79 354.1,145.87 354.6,145.96 355.1,146.05 355.6,146.14 356.1,146.22 356.6,146.31 357.1,146.40 357.6,146.48 358.1,146.57 358.6,146.66 359.1,146.74 359.6,146.83 360.1,146.91 360.6,147.00 361.1,147.08 361.6,147.17 362.1,147.25 362.6,147.33 363.1,147.42 363.6,147.50 364.1,147.58 364.6,147.66 365.1,147.74 365.6,147.82 366.1,147.91 366.6,147.99 367.1,148.07 367.6,148.15 368.1,148.23 368.6,148.30 369.1,148.38 369.6,148.46 370.1,148.54 370.6,148.62 371.1,148.70 371.6,148.78 372.1,148.86 372.6,148.93 373.1,149.01 373.6,149.09 374.1,149.17 374.6,149.25 375.1,149.33 375.6,149.41 376.1,149.48 376.6,149.56 377.1,149.64 377.6,149.72 378.1,149.80 378.6,149.88 379.1,149.96 379.6,150.04 380.1,150.12 380.6,150.20 381.1,150.28 381.6,150.36 382.1,150.43 382.6,150.51 383.1,150.59 383.6,150.67 384.1,150.75 384.6,150.83 385.1,150.91 385.6,150.99 386.1,151.07 386.6,151.15 387.1,151.23 387.6,151.31 388.1,151.39 388.6,151.47 389.1,151.55 389.6,151.63 390.1,151.71 390.6,151.79 391.1,151.87 391.6,151.95 392.1,152.03 392.6,152.11 393.1,152.19 393.6,152.27 394.1,152.35 394.6,152.43 395.1,152.51 395.6,152.59 396.1,152.67 396.6,152.75 397.1,152.83 397.6,152.91 398.1,152.99 398.6,153.07 399.1,153.15 399.6,153.23 400.1,153.31 400.6,153.39 401.1,153.48 401.6,153.56 402.1,153.64" stroke="#e377c2" stroke-dasharray="6.3,2.7"/>
<path d="M57.4,66.70 57.9,68.63 58.4,70.87 58.9,73.37 59.4,76.28 59.9,79.67 60.4,83.06 60.9,86.07 61.4,88.95 61.9,91.72 62.4,94.37 62.9,96.88 63.4,99.22 63.9,101.44 64.4,103.54 64.9,105.50 65.4,107.30 65.9,108.92 66.4,110.39 66.9,111.79 67.4,113.21 67.9,114.71 68.4,116.25 68.9,117.81 69.4,119.39 69.9,120.99 70.4,122.63 70.9,124.42 71.4,126.26 71.9,127.92 72.4,129.24 72.9,130.33 73.4,131.29 73.9,132.17 74.4,133.04 74.9,133.90 75.4,134.73 75.9,135.54 76.4,136.31 76.9,137.06 77.4,137.79 77.9,138.51 78.4,139.20 78.9,139.87 79.4,140.49 79.9,141.08 80.4,141.64 80.9,142.18 81.4,142.69 81.9,143.18 82.4,143.64 82.9,144.10 83.4,144.54 83.9,144.98 84.4,145.39 84.9,145.77 85.4,146.12 85.9,146.42 86.4,146.69 86.9,146.95 87.4,147.20 87.9,147.43 88.4,147.65 88.9,147.85 89.4,148.03 89.9,148.20 90.4,148.34 90.9,148.46 91.4,148.56 91.9,148.66 92.4,148.75 92.9,148.84 93.4,148.91 93.9,148.99 94.4,149.05 94.9,149.10 95.4,149.14 95.9,149.17 96.4,149.20 96.9,149.22 97.4,149.24 97.9,149.26 98.4,149.28 98.9,149.29 99.4,149.30 99.9,149.30 100.4,149.30 100.9,149.28 101.4,149.26 101.9,149.22 102.4,149.18 102.9,149.14 103.4,149.09 103.9,149.03 104.4,148.97 104.9,148.91 105.4,148.85 105.9,148.76 106.4,148.67 106.9,148.56 107.4,148.44 107.9,148.31 108.4,148.17 108.9,148.03 109.4,147.88 109.9,147.73 110.4,147.57 110.9,147.40 111.4,147.21 111.9,147.01 112.4,146.80 112.9,146.59 113.4,146.37 113.9,146.16 114.4,145.95 114.9,145.74 115.4,145.54 115.9,145.34 116.4,145.13 116.9,144.93 117.4,144.73 117.9,144.53 118.4,144.32 118.9,144.13 119.4,143.93 119.9,143.74 120.4,143.55 120.9,143.37 121.4,143.20 121.9,143.03 122.4,142.86 122.9,142.69 123.4,142.51 123.9,142.33 124.4,142.14 124.9,141.94 125.4,141.73 125.9,141.50 126.4,141.25 126.9,140.99 127.4,140.72 127.9,140.45 128.4,140.18 128.9,139.91 129.4,139.64 129.9,139.38 130.4,139.13 130.9,138.90 131.4,138.68 131.9,138.48 132.4,138.30 132.9,138.12 133.4,137.95 133.9,137.78 134.4,137.62 134.9,137.47 135.4,137.32 135.9,137.17 136.4,137.02 136.9,136.88 137.4,136.73 137.9,136.58 138.4,136.43 138.9,136.28 139.4,136.13 139.9,135.97 140.4,135.80 140.9,135.63 141.4,135.45 141.9,135.28 142.4,135.09 142.9,134.91 143.4,134.72 143.9,134.53 144.4,134.34 144.9,134.15 145.4,133.96 145.9,133.77 146.4,133.58 146.9,133.39 147.4,133.20 147.9,133.01 148.4,132.83 148.9,132.64 149.4,132.44 149.9,132.25 150.4,132.06 150.9,131.87 151.4,131.70 151.9,131.53 152.4,131.38 152.9,131.23 153.4,131.08 153.9,130.94 154.4,130.81 154.9,130.67 155.4,130.55 155.9,130.42 156.4,130.29 156.9,130.17 157.4,130.05 157.9,129.92 158.4,129.80 158.9,129.68 159.4,129.55 159.9,129.43 160.4,129.30 160.9,129.16 161.4,129.03 161.9,128.90 162.4,128.76 162.9,128.63 163.4,128.50 163.9,128.37 164.4,128.25 164.9,128.13 165.4,128.02 165.9,127.92 166.4,127.82 166.9,127.73 167.4,127.64 167.9,127.55 168.4,127.46 168.9,127.38 169.4,127.29 169.9,127.21 170.4,127.14 170.9,127.06 171.4,126.99 171.9,126.91 172.4,126.84 172.9,126.77 173.4,126.71 173.9,126.64 174.4,126.58 174.9,126.51 175.4,126.45 175.9,126.39 176.4,126.32 176.9,126.26 177.4,126.20 177.9,126.13 178.4,126.07 178.9,126.01 179.4,125.95 179.9,125.88 180.4,125.82 180.9,125.76 181.4,125.71 181.9,125.65 182.4,125.59 182.9,125.54 183.4,125.48 183.9,125.43 184.4,125.38 184.9,125.33 185.4,125.29 185.9,125.25 186.4,125.21 186.9,125.17 187.4,125.13 187.9,125.10 188.4,125.07 188.9,125.05 189.4,125.02 189.9,125.00 190.4,124.99 190.9,124.97 191.4,124.95 191.9,124.94 192.4,124.92 192.9,124.91 193.4,124.89 193.9,124.88 194.4,124.86 194.9,124.85 195.4,124.84 195.9,124.82 196.4,124.81 196.9,124.80 197.4,124.79 197.9,124.78 198.4,124.77 198.9,124.76 199.4,124.75 199.9,124.74 200.4,124.73 200.9,124.73 201.4,124.72 201.9,124.72 202.4,124.71 202.9,124.71 203.4,124.70 203.9,124.70 204.4,124.70 204.9,124.70 205.4,124.70 205.9,124.70 206.4,124.70 206.9,124.71 207.4,124.71 207.9,124.72 208.4,124.72 208.9,124.73 209.4,124.74 209.9,124.75 210.4,124.75 210.9,124.76 211.4,124.77 211.9,124.79 212.4,124.80 212.9,124.81 213.4,124.82 213.9,124.83 214.4,124.85 214.9,124.86 215.4,124.87 215.9,124.89 216.4,124.90 216.9,124.91 217.4,124.93 217.9,124.94 218.4,124.96 218.9,124.97 219.4,124.98 219.9,125.00 220.4,125.01 220.9,125.03 221.4,125.04 221.9,125.06 222.4,125.07 222.9,125.09 223.4,125.11 223.9,125.13 224.4,125.15 224.9,125.16 225.4,125.18 225.9,125.21 226.4,125.23 226.9,125.25 227.4,125.27 227.9,125.29 228.4,125.32 228.9,125.34 229.4,125.37 229.9,125.39 230.4,125.42 230.9,125.44 231.4,125.47 231.9,125.49 232.4,125.52 232.9,125.55 233.4,125.58 233.9,125.61 234.4,125.64 234.9,125.67 235.4,125.71 235.9,125.74 236.4,125.78 236.9,125.81 237.4,125.85 237.9,125.89 238.4,125.92 238.9,125.96 239.4,126.00 239.9,126.04 240.4,126.08 240.9,126.13 241.4,126.17 241.9,126.21 242.4,126.26 242.9,126.30 243.4,126.35 243.9,126.39 244.4,126.44 244.9,126.49 245.4,126.54 245.9,126.58 246.4,126.63 246.9,126.68 247.4,126.73 247.9,126.78 248.4,126.83 248.9,126.89 249.4,126.94 249.9,126.99 250.4,127.04 250.9,127.10 251.4,127.16 251.9,127.21 252.4,127.28 252.9,127.34 253.4,127.40 253.9,127.47 254.4,127.53 254.9,127.60 255.4,127.67 255.9,127.74 256.4,127.81 256.9,127.89 257.4,127.96 257.9,128.03 258.4,128.11 258.9,128.18 259.4,128.26 259.9,128.33 260.4,128.41 260.9,128.48 261.4,128.56 261.9,128.64 262.4,128.71 262.9,128.79 263.4,128.86 263.9,128.94 264.4,129.01 264.9,129.09 265.4,129.16 265.9,129.23 266.4,129.31 266.9,129.38 267.4,129.46 267.9,129.53 268.4,129.61 268.9,129.68 269.4,129.76 269.9,129.83 270.4,129.91 270.9,129.99 271.4,130.06 271.9,130.14 272.4,130.22 272.9,130.29 273.4,130.37 273.9,130.45 274.4,130.53 274.9,130.60 275.4,130.68 275.9,130.76 276.4,130.84 276.9,130.92 277.4,130.99 277.9,131.07 278.4,131.15 278.9,131.23 279.4,131.31 279.9,131.38 280.4,131.46 280.9,131.54 281.4,131.62 281.9,131.70 282.4,131.77 282.9,131.85 283.4,131.93 283.9,132.00 284.4,132.08 284.9,132.16 285.4,132.23 285.9,132.31 286.4,132.39 286.9,132.47 287.4,132.54 287.9,132.62 288.4,132.70 288.9,132.78 289.4,132.85 289.9,132.93 290.4,133.01 290.9,133.09 291.4,133.17 291.9,133.25 292.4,133.33 292.9,133.41 293.4,133.49 293.9,133.57 294.4,133.65 294.9,133.73 295.4,133.81 295.9,133.90 296.4,133.98 296.9,134.06 297.4,134.15 297.9,134.23 298.4,134.32 298.9,134.41 299.4,134.49 299.9,134.58 300.4,134.67 300.9,134.76 301.4,134.85 301.9,134.95 302.4,135.04 302.9,135.13 303.4,135.23 303.9,135.32 304.4,135.42 304.9,135.52 305.4,135.61 305.9,135.71 306.4,135.81 306.9,135.91 307.4,136.01 307.9,136.11 308.4,136.21 308.9,136.31 309.4,136.42 309.9,136.52 310.4,136.62 310.9,136.72 311.4,136.83 311.9,136.93 312.4,137.03 312.9,137.14 313.4,137.24 313.9,137.35 314.4,137.45 314.9,137.55 315.4,137.66 315.9,137.76 316.4,137.86 316.9,137.97 317.4,138.07 317.9,138.17 318.4,138.27 318.9,138.38 319.4,138.48 319.9,138.58 320.4,138.68 320.9,138.78 321.4,138.88 321.9,138.98 322.4,139.08 322.9,139.18 323.4,139.28 323.9,139.38 324.4,139.48 324.9,139.58 325.4,139.68 325.9,139.78 326.4,139.88 326.9,139.97 327.4,140.07 327.9,140.17 328.4,140.27 328.9,140.37 329.4,140.47 329.9,140.57 330.4,140.67 330.9,140.77 331.4,140.87 331.9,140.97 332.4,141.07 332.9,141.17 333.4,141.27 333.9,141.37 334.4,141.47 334.9,141.57 335.4,141.67 335.9,141.77 336.4,141.87 336.9,141.98 337.4,142.08 337.9,142.18 338.4,142.29 338.9,142.39 339.4,142.49 339.9,142.60 340.4,142.70 340.9,142.81 341.4,142.92 341.9,143.02 342.4,143.13 342.9,143.24 343.4,143.35 343.9,143.46 344.4,143.57 344.9,143.68 345.4,143.79 345.9,143.90 346.4,144.01 346.9,144.13 347.4,144.24 347.9,144.36 348.4,144.47 348.9,144.59 349.4,144.70 349.9,144.82 350.4,144.94 350.9,145.05 351.4,145.17 351.9,145.29 352.4,145.41 352.9,145.53 353.4,145.65 353.9,145.77 354.4,145.89 354.9,146.01 355.4,146.13 355.9,146.26 356.4,146.38 356.9,146.50 357.4,146.62 357.9,146.75 358.4,146.87 358.9,146.99 359.4,147.12 359.9,147.24 360.4,147.37 360.9,147.49 361.4,147.62 361.9,147.75 362.4,147.87 362.9,148.00 363.4,148.12 363.9,148.25 364.4,148.38 364.9,148.50 365.4,148.63 365.9,148.76 366.4,148.88 366.9,149.01 367.4,149.14 367.9,149.27 368.4,149.39 368.9,149.52 369.4,149.65 369.9,149.77 370.4,149.90 370.9,150.03 371.4,150.16 371.9,150.29 372.4,150.41 372.9,150.54 373.4,150.67 373.9,150.80 374.4,150.93 374.9,151.06 375.4,151.19 375.9,151.32 376.4,151.45 376.9,151.58 377.4,151.71 377.9,151.84 378.4,151.97 378.9,152.10 379.4,152.23 379.9,152.36 380.4,152.49 380.9,152.62 381.4,152.75 381.9,152.89 382.4,153.02 382.9,153.15 383.4,153.28 383.9,153.42 384.4,153.55 384.9,153.68 385.4,153.82 385.9,153.95 386.4,154.08 386.9,154.22 387.4,154.35 387.9,154.49 388.4,154.62 388.9,154.76 389.4,154.89 389.9,155.03 390.4,155.16 390.9,155.30 391.4,155.43 391.9,155.57 392.4,155.70 392.9,155.84 393.4,155.98 393.9,156.11 394.4,156.25 394.9,156.39 395.4,156.53 395.9,156.66 396.4,156.80 396.9,156.94 397.4,157.08 397.9,157.22 398.4,157.35 398.9,157.49 399.4,157.63 399.9,157.77 400.4,157.91 400.9,158.05 401.4,158.19 401.9,158.33 402.4,158.47" stroke="#7f7f7f" stroke-dasharray="6.3,2.7"/>
<path d="M57.4,65.40 57.9,67.33 58.4,69.57 58.9,72.07 59.4,74.98 59.9,78.37 60.4,81.76 60.9,84.77 61.4,87.65 61.9,90.42 62.4,93.07 62.9,95.58 63.4,97.92 63.9,100.14 64.4,102.24 64.9,104.20 65.4,106.00 65.9,107.62 66.4,109.09 66.9,110.49 67.4,111.91 67.9,113.41 68.4,114.95 68.9,116.51 69.4,118.09 69.9,119.69 70.4,121.33 70.9,123.13 71.4,124.98 71.9,126.66 72.4,127.99 72.9,129.08 73.4,130.05 73.9,130.95 74.4,131.82 74.9,132.70 75.4,133.54 75.9,134.36 76.4,135.14 76.9,135.90 77.4,136.64 77.9,137.37 78.4,138.07 78.9,138.74 79.4,139.38 79.9,139.98 80.4,140.55 80.9,141.10 81.4,141.62 81.9,142.11 82.4,142.59 82.9,143.05 83.4,143.51 83.9,143.95 84.4,144.38 84.9,144.77 85.4,145.13 85.9,145.44 86.4,145.72 86.9,145.99 87.4,146.24 87.9,146.49 88.4,146.71 88.9,146.92 89.4,147.12 89.9,147.29 90.4,147.44 90.9,147.58 91.4,147.69 91.9,147.80 92.4,147.90 92.9,147.99 93.4,148.08 93.9,148.16 94.4,148.23 94.9,148.29 95.4,148.35 95.9,148.39 96.4,148.43 96.9,148.47 97.4,148.50 97.9,148.53 98.4,148.56 98.9,148.58 99.4,148.59 99.9,148.60 100.4,148.60 100.9,148.58 101.4,148.56 101.9,148.52 102.4,148.48 102.9,148.44 103.4,148.39 103.9,148.33 104.4,148.27 104.9,148.21 105.4,148.15 105.9,148.06 106.4,147.97 106.9,147.86 107.4,147.74 107.9,147.61 108.4,147.47 108.9,147.33 109.4,147.18 109.9,147.03 110.4,146.87 110.9,146.70 111.4,146.51 111.9,146.31 112.4,146.10 112.9,145.89 113.4,145.67 113.9,145.46 114.4,145.25 114.9,145.04 115.4,144.84 115.9,144.64 116.4,144.43 116.9,144.23 117.4,144.03 117.9,143.83 118.4,143.62 118.9,143.43 119.4,143.23 119.9,143.04 120.4,142.85 120.9,142.67 121.4,142.50 121.9,142.33 122.4,142.16 122.9,141.99 123.4,141.81 123.9,141.63 124.4,141.44 124.9,141.24 125.4,141.03 125.9,140.80 126.4,140.55 126.9,140.29 127.4,140.02 127.9,139.75 128.4,139.48 128.9,139.21 129.4,138.94 129.9,138.68 130.4,138.43 130.9,138.20 131.4,137.98 131.9,137.78 132.4,137.60 132.9,137.42 133.4,137.25 133.9,137.08 134.4,136.92 134.9,136.77 135.4,136.62 135.9,136.47 136.4,136.32 136.9,136.18 137.4,136.03 137.9,135.88 138.4,135.73 138.9,135.58 139.4,135.43 139.9,135.27 140.4,135.10 140.9,134.93 141.4,134.75 141.9,134.58 142.4,134.39 142.9,134.21 143.4,134.02 143.9,133.83 144.4,133.64 144.9,133.45 145.4,133.26 145.9,133.07 146.4,132.88 146.9,132.69 147.4,132.50 147.9,132.31 148.4,132.13 148.9,131.94 149.4,131.74 149.9,131.55 150.4,131.36 150.9,131.17 151.4,131.00 151.9,130.83 152.4,130.68 152.9,130.53 153.4,130.38 153.9,130.24 154.4,130.11 154.9,129.97 155.4,129.85 155.9,129.72 156.4,129.59 156.9,129.47 157.4,129.35 157.9,129.22 158.4,129.10 158.9,128.98 159.4,128.85 159.9,128.73 160.4,128.60 160.9,128.46 161.4,128.33 161.9,128.20 162.4,128.06 162.9,127.93 163.4,127.80 163.9,127.67 164.4,127.55 164.9,127.43 165.4,127.32 165.9,127.22 166.4,127.12 166.9,127.03 167.4,126.94 167.9,126.85 168.4,126.76 168.9,126.68 169.4,126.59 169.9,126.51 170.4,126.44 170.9,126.36 171.4,126.29 171.9,126.21 172.4,126.14 172.9,126.07 173.4,126.01 173.9,125.94 174.4,125.88 174.9,125.81 175.4,125.75 175.9,125.69 176.4,125.62 176.9,125.56 177.4,125.50 177.9,125.43 178.4,125.37 178.9,125.31 179.4,125.25 179.9,125.18 180.4,125.12 180.9,125.06 181.4,125.01 181.9,124.95 182.4,124.89 182.9,124.84 183.4,124.78 183.9,124.73 184.4,124.68 184.9,124.63 185.4,124.59 185.9,124.55 186.4,124.51 186.9,124.47 187.4,124.43 187.9,124.40 188.4,124.37 188.9,124.35 189.4,124.32 189.9,124.30 190.4,124.29 190.9,124.27 191.4,124.25 191.9,124.24 192.4,124.22 192.9,124.21 193.4,124.19 193.9,124.18 194.4,124.16 194.9,124.15 195.4,124.14 195.9,124.12 196.4,124.11 196.9,124.10 197.4,124.09 197.9,124.08 198.4,124.07 198.9,124.06 199.4,124.05 199.9,124.04 200.4,124.03 200.9,124.03 201.4,124.02 201.9,124.02 202.4,124.01 202.9,124.01 203.4,124.00 203.9,124.00 204.4,124.00 204.9,124.00 205.4,124.00 205.9,124.00 206.4,124.00 206.9,124.01 207.4,124.01 207.9,124.02 208.4,124.02 208.9,124.03 209.4,124.04 209.9,124.05 210.4,124.05 210.9,124.06 211.4,124.07 211.9,124.09 212.4,124.10 212.9,124.11 213.4,124.12 213.9,124.13 214.4,124.15 214.9,124.16 215.4,124.17 215.9,124.19 216.4,124.20 216.9,124.21 217.4,124.23 217.9,124.24 218.4,124.26 218.9,124.27 219.4,124.28 219.9,124.30 220.4,124.31 220.9,124.33 221.4,124.34 221.9,124.36 222.4,124.37 222.9,124.39 223.4,124.41 223.9,124.43 224.4,124.45 224.9,124.46 225.4,124.48 225.9,124.51 226.4,124.53 226.9,124.55 227.4,124.57 227.9,124.59 228.4,124.62 228.9,124.64 229.4,124.67 229.9,124.69 230.4,124.72 230.9,124.74 231.4,124.77 231.9,124.79 232.4,124.82 232.9,124.85 233.4,124.88 233.9,124.91 234.4,124.94 234.9,124.97 235.4,125.01 235.9,125.04 236.4,125.08 236.9,125.11 237.4,125.15 237.9,125.19 238.4,125.22 238.9,125.26 239.4,125.30 239.9,125.34 240.4,125.38 240.9,125.43 241.4,125.47 241.9,125.51 242.4,125.56 242.9,125.60 243.4,125.65 243.9,125.69 244.4,125.74 244.9,125.79 245.4,125.84 245.9,125.88 246.4,125.93 246.9,125.98 247.4,126.03 247.9,126.08 248.4,126.13 248.9,126.19 249.4,126.24 249.9,126.29 250.4,126.34 250.9,126.40 251.4,126.46 251.9,126.51 252.4,126.58 252.9,126.64 253.4,126.70 253.9,126.77 254.4,126.83 254.9,126.90 255.4,126.97 255.9,127.04 256.4,127.11 256.9,127.19 257.4,127.26 257.9,127.33 258.4,127.41 258.9,127.48 259.4,127.56 259.9,127.63 260.4,127.71 260.9,127.78 261.4,127.86 261.9,127.94 262.4,128.01 262.9,128.09 263.4,128.16 263.9,128.24 264.4,128.31 264.9,128.39 265.4,128.46 265.9,128.53 266.4,128.61 266.9,128.68 267.4,128.76 267.9,128.83 268.4,128.91 268.9,128.98 269.4,129.06 269.9,129.13 270.4,129.21 270.9,129.29 271.4,129.36 271.9,129.44 272.4,129.52 272.9,129.59 273.4,129.67 273.9,129.75 274.4,129.83 274.9,129.90 275.4,129.98 275.9,130.06 276.4,130.14 276.9,130.22 277.4,130.29 277.9,130.37 278.4,130.45 278.9,130.53 279.4,130.61 279.9,130.68 280.4,130.76 280.9,130.84 281.4,130.92 281.9,131.00 282.4,131.07 282.9,131.15 283.4,131.23 283.9,131.30 284.4,131.38 284.9,131.46 285.4,131.53 285.9,131.61 286.4,131.69 286.9,131.77 287.4,131.84 287.9,131.92 288.4,132.00 288.9,132.08 289.4,132.15 289.9,132.23 290.4,132.31 290.9,132.39 291.4,132.47 291.9,132.55 292.4,132.63 292.9,132.71 293.4,132.79 293.9,132.87 294.4,132.95 294.9,133.03 295.4,133.11 295.9,133.20 296.4,133.28 296.9,133.36 297.4,133.45 297.9,133.53 298.4,133.62 298.9,133.71 299.4,133.79 299.9,133.88 300.4,133.97 300.9,134.06 301.4,134.15 301.9,134.25 302.4,134.34 302.9,134.43 303.4,134.53 303.9,134.62 304.4,134.72 304.9,134.82 305.4,134.91 305.9,135.01 306.4,135.11 306.9,135.21 307.4,135.31 307.9,135.41 308.4,135.51 308.9,135.61 309.4,135.72 309.9,135.82 310.4,135.92 310.9,136.02 311.4,136.13 311.9,136.23 312.4,136.33 312.9,136.44 313.4,136.54 313.9,136.65 314.4,136.75 314.9,136.85 315.4,136.96 315.9,137.06 316.4,137.16 316.9,137.27 317.4,137.37 317.9,137.47 318.4,137.57 318.9,137.68 319.4,137.78 319.9,137.88 320.4,137.98 320.9,138.08 321.4,138.18 321.9,138.28 322.4,138.38 322.9,138.48 323.4,138.58 323.9,138.68 324.4,138.78 324.9,138.88 325.4,138.98 325.9,139.08 326.4,139.18 326.9,139.27 327.4,139.37 327.9,139.47 328.4,139.57 328.9,139.67 329.4,139.77 329.9,139.87 330.4,139.97 330.9,140.07 331.4,140.17 331.9,140.27 332.4,140.37 332.9,140.47 333.4,140.57 333.9,140.67 334.4,140.77 334.9,140.87 335.4,140.97 335.9,141.07 336.4,141.17 336.9,141.28 337.4,141.38 337.9,141.48 338.4,141.59 338.9,141.69 339.4,141.79 339.9,141.90 340.4,142.00 340.9,142.11 341.4,142.22 341.9,142.32 342.4,142.43 342.9,142.54 343.4,142.65 343.9,142.76 344.4,142.87 344.9,142.98 345.4,143.09 345.9,143.20 346.4,143.31 346.9,143.43 347.4,143.54 347.9,143.66 348.4,143.77 348.9,143.89 349.4,144.00 349.9,144.12 350.4,144.24 350.9,144.35 351.4,144.47 351.9,144.59 352.4,144.71 352.9,144.83 353.4,144.95 353.9,145.07 354.4,145.19 354.9,145.31 355.4,145.43 355.9,145.56 356.4,145.68 356.9,145.80 357.4,145.92 357.9,146.05 358.4,146.17 358.9,146.29 359.4,146.42 359.9,146.54 360.4,146.67 360.9,146.79 361.4,146.92 361.9,147.05 362.4,147.17 362.9,147.30 363.4,147.42 363.9,147.55 364.4,147.68 364.9,147.80 365.4,147.93 365.9,148.06 366.4,148.18 366.9,148.31 367.4,148.44 367.9,148.57 368.4,148.69 368.9,148.82 369.4,148.95 369.9,149.07 370.4,149.20 370.9,149.33 371.4,149.46 371.9,149.59 372.4,149.71 372.9,149.84 373.4,149.97 373.9,150.10 374.4,150.23 374.9,150.36 375.4,150.49 375.9,150.62 376.4,150.75 376.9,150.88 377.4,151.01 377.9,151.14 378.4,151.27 378.9,151.40 379.4,151.53 379.9,151.66 380.4,151.79 380.9,151.92 381.4,152.05 381.9,152.19 382.4,152.32 382.9,152.45 383.4,152.58 383.9,152.72 384.4,152.85 384.9,152.98 385.4,153.12 385.9,153.25 386.4,153.38 386.9,153.52 387.4,153.65 387.9,153.79 388.4,153.92 388.9,154.06 389.4,154.19 389.9,154.33 390.4,154.46 390.9,154.60 391.4,154.73 391.9,154.87 392.4,155.00 392.9,155.14 393.4,155.28 393.9,155.41 394.4,155.55 394.9,155.69 395.4,155.83 395.9,155.96 396.4,156.10 396.9,156.24 397.4,156.38 397.9,156.52 398.4,156.65 398.9,156.79 399.4,156.93 399.9,157.07 400.4,157.21 400.9,157.35 401.4,157.49 401.9,157.63 402.4,157.77" stroke="#bcbd22" stroke-dasharray="6.3,2.7"/>
<path d="M57.2,75.60 57.7,77.46 58.2,79.36 58.7,81.31 59.2,83.31 59.7,85.36 60.2,87.46 60.7,89.59 61.2,91.73 61.7,93.86 62.2,96.06 62.7,98.30 63.2,100.49 63.7,102.57 64.2,104.46 64.7,106.23 65.2,107.91 65.7,109.50 66.2,111.02 66.7,112.45 67.2,113.81 67.7,115.12 68.2,116.38 68.7,117.59 69.2,118.73 69.7,119.80 70.2,120.80 70.7,121.73 71.2,122.62 71.7,123.46 72.2,124.26 72.7,125.03 73.2,125.77 73.7,126.49 74.2,127.20 74.7,127.89 75.2,128.57 75.7,129.23 76.2,129.88 76.7,130.51 77.2,131.12 77.7,131.72 78.2,132.31 78.7,132.89 79.2,133.46 79.7,134.01 80.2,134.56 80.7,135.12 81.2,135.67 81.7,136.21 82.2,136.75 82.7,137.27 83.2,137.79 83.7,138.28 84.2,138.75 84.7,139.21 85.2,139.63 85.7,140.03 86.2,140.40 86.7,140.75 87.2,141.08 87.7,141.41 88.2,141.72 88.7,142.02 89.2,142.31 89.7,142.59 90.2,142.86 90.7,143.11 91.2,143.36 91.7,143.59 92.2,143.80 92.7,144.01 93.2,144.20 93.7,144.38 94.2,144.56 94.7,144.73 95.2,144.90 95.7,145.05 96.2,145.21 96.7,145.35 97.2,145.49 97.7,145.62 98.2,145.74 98.7,145.85 99.2,145.96 99.7,146.05 100.2,146.13 100.7,146.22 101.2,146.30 101.7,146.38 102.2,146.46 102.7,146.53 103.2,146.59 103.7,146.64 104.2,146.68 104.7,146.70 105.2,146.70 105.7,146.69 106.2,146.68 106.7,146.65 107.2,146.63 107.7,146.59 108.2,146.56 108.7,146.51 109.2,146.47 109.7,146.43 110.2,146.38 110.7,146.32 111.2,146.25 111.7,146.17 112.2,146.08 112.7,145.98 113.2,145.88 113.7,145.77 114.2,145.67 114.7,145.56 115.2,145.46 115.7,145.35 116.2,145.24 116.7,145.13 117.2,145.01 117.7,144.89 118.2,144.77 118.7,144.64 119.2,144.52 119.7,144.39 120.2,144.26 120.7,144.13 121.2,144.00 121.7,143.86 122.2,143.73 122.7,143.60 123.2,143.47 123.7,143.34 124.2,143.21 124.7,143.08 125.2,142.95 125.7,142.82 126.2,142.70 126.7,142.57 127.2,142.44 127.7,142.32 128.2,142.19 128.7,142.06 129.2,141.93 129.7,141.81 130.2,141.68 130.7,141.55 131.2,141.42 131.7,141.29 132.2,141.16 132.7,141.03 133.2,140.89 133.7,140.76 134.2,140.62 134.7,140.48 135.2,140.34 135.7,140.20 136.2,140.06 136.7,139.92 137.2,139.77 137.7,139.62 138.2,139.48 138.7,139.33 139.2,139.18 139.7,139.02 140.2,138.87 140.7,138.72 141.2,138.57 141.7,138.41 142.2,138.26 142.7,138.11 143.2,137.95 143.7,137.80 144.2,137.64 144.7,137.49 145.2,137.34 145.7,137.19 146.2,137.03 146.7,136.88 147.2,136.73 147.7,136.57 148.2,136.42 148.7,136.27 149.2,136.11 149.7,135.96 150.2,135.80 150.7,135.65 151.2,135.49 151.7,135.33 152.2,135.18 152.7,135.02 153.2,134.87 153.7,134.71 154.2,134.55 154.7,134.39 155.2,134.24 155.7,134.08 156.2,133.92 156.7,133.75 157.2,133.59 157.7,133.43 158.2,133.27 158.7,133.11 159.2,132.95 159.7,132.79 160.2,132.64 160.7,132.49 161.2,132.33 161.7,132.18 162.2,132.03 162.7,131.88 163.2,131.73 163.7,131.59 164.2,131.44 164.7,131.29 165.2,131.15 165.7,131.00 166.2,130.86 166.7,130.71 167.2,130.57 167.7,130.43 168.2,130.29 168.7,130.15 169.2,130.02 169.7,129.88 170.2,129.75 170.7,129.61 171.2,129.48 171.7,129.35 172.2,129.22 172.7,129.09 173.2,128.96 173.7,128.83 174.2,128.70 174.7,128.58 175.2,128.45 175.7,128.33 176.2,128.20 176.7,128.08 177.2,127.96 177.7,127.84 178.2,127.72 178.7,127.60 179.2,127.48 179.7,127.37 180.2,127.25 180.7,127.14 181.2,127.03 181.7,126.92 182.2,126.81 182.7,126.69 183.2,126.59 183.7,126.48 184.2,126.37 184.7,126.26 185.2,126.16 185.7,126.05 186.2,125.95 186.7,125.85 187.2,125.75 187.7,125.65 188.2,125.55 188.7,125.45 189.2,125.35 189.7,125.26 190.2,125.16 190.7,125.07 191.2,124.97 191.7,124.88 192.2,124.79 192.7,124.69 193.2,124.60 193.7,124.51 194.2,124.42 194.7,124.33 195.2,124.24 195.7,124.15 196.2,124.07 196.7,123.98 197.2,123.90 197.7,123.82 198.2,123.75 198.7,123.68 199.2,123.61 199.7,123.54 200.2,123.47 200.7,123.41 201.2,123.35 201.7,123.30 202.2,123.24 202.7,123.18 203.2,123.13 203.7,123.08 204.2,123.03 204.7,122.98 205.2,122.93 205.7,122.88 206.2,122.83 206.7,122.78 207.2,122.74 207.7,122.70 208.2,122.65 208.7,122.61 209.2,122.57 209.7,122.52 210.2,122.48 210.7,122.44 211.2,122.40 211.7,122.36 212.2,122.32 212.7,122.28 213.2,122.24 213.7,122.19 214.2,122.16 214.7,122.12 215.2,122.08 215.7,122.04 216.2,122.01 216.7,121.97 217.2,121.94 217.7,121.91 218.2,121.88 218.7,121.86 219.2,121.83 219.7,121.81 220.2,121.79 220.7,121.77 221.2,121.76 221.7,121.74 222.2,121.72 222.7,121.70 223.2,121.68 223.7,121.67 224.2,121.65 224.7,121.63 225.2,121.62 225.7,121.60 226.2,121.59 226.7,121.58 227.2,121.56 227.7,121.55 228.2,121.54 228.7,121.53 229.2,121.52 229.7,121.52 230.2,121.51 230.7,121.51 231.2,121.50 231.7,121.50 232.2,121.50 232.7,121.50 233.2,121.51 233.7,121.51 234.2,121.52 234.7,121.53 235.2,121.54 235.7,121.55 236.2,121.56 236.7,121.58 237.2,121.60 237.7,121.61 238.2,121.63 238.7,121.65 239.2,121.68 239.7,121.70 240.2,121.72 240.7,121.75 241.2,121.77 241.7,121.80 242.2,121.83 242.7,121.85 243.2,121.88 243.7,121.91 244.2,121.94 244.7,121.97 245.2,122.00 245.7,122.03 246.2,122.06 246.7,122.10 247.2,122.13 247.7,122.16 248.2,122.19 248.7,122.22 249.2,122.25 249.7,122.28 250.2,122.31 250.7,122.34 251.2,122.38 251.7,122.41 252.2,122.45 252.7,122.48 253.2,122.52 253.7,122.56 254.2,122.60 254.7,122.64 255.2,122.69 255.7,122.73 256.2,122.78 256.7,122.82 257.2,122.87 257.7,122.92 258.2,122.96 258.7,123.01 259.2,123.06 259.7,123.12 260.2,123.17 260.7,123.22 261.2,123.27 261.7,123.33 262.2,123.38 262.7,123.44 263.2,123.49 263.7,123.55 264.2,123.61 264.7,123.67 265.2,123.72 265.7,123.78 266.2,123.84 266.7,123.91 267.2,123.97 267.7,124.04 268.2,124.11 268.7,124.18 269.2,124.25 269.7,124.32 270.2,124.39 270.7,124.47 271.2,124.54 271.7,124.62 272.2,124.70 272.7,124.78 273.2,124.86 273.7,124.94 274.2,125.02 274.7,125.10 275.2,125.19 275.7,125.27 276.2,125.35 276.7,125.44 277.2,125.52 277.7,125.61 278.2,125.69 278.7,125.78 279.2,125.86 279.7,125.95 280.2,126.03 280.7,126.12 281.2,126.21 281.7,126.30 282.2,126.39 282.7,126.48 283.2,126.57 283.7,126.67 284.2,126.76 284.7,126.86 285.2,126.95 285.7,127.05 286.2,127.15 286.7,127.25 287.2,127.34 287.7,127.44 288.2,127.54 288.7,127.64 289.2,127.74 289.7,127.84 290.2,127.94 290.7,128.04 291.2,128.14 291.7,128.24 292.2,128.35 292.7,128.45 293.2,128.55 293.7,128.66 294.2,128.76 294.7,128.87 295.2,128.97 295.7,129.08 296.2,129.19 296.7,129.29 297.2,129.40 297.7,129.51 298.2,129.61 298.7,129.72 299.2,129.83 299.7,129.94 300.2,130.04 300.7,130.15 301.2,130.26 301.7,130.36 302.2,130.47 302.7,130.57 303.2,130.68 303.7,130.79 304.2,130.89 304.7,131.00 305.2,131.11 305.7,131.22 306.2,131.33 306.7,131.44 307.2,131.55 307.7,131.66 308.2,131.78 308.7,131.89 309.2,132.01 309.7,132.13 310.2,132.25 310.7,132.37 311.2,132.50 311.7,132.63 312.2,132.76 312.7,132.89 313.2,133.02 313.7,133.16 314.2,133.29 314.7,133.43 315.2,133.57 315.7,133.71 316.2,133.85 316.7,133.99 317.2,134.12 317.7,134.26 318.2,134.40 318.7,134.54 319.2,134.68 319.7,134.82 320.2,134.95 320.7,135.09 321.2,135.23 321.7,135.36 322.2,135.50 322.7,135.64 323.2,135.77 323.7,135.91 324.2,136.04 324.7,136.18 325.2,136.32 325.7,136.45 326.2,136.59 326.7,136.72 327.2,136.86 327.7,137.00 328.2,137.13 328.7,137.27 329.2,137.41 329.7,137.54 330.2,137.68 330.7,137.82 331.2,137.95 331.7,138.09 332.2,138.23 332.7,138.36 333.2,138.50 333.7,138.64 334.2,138.78 334.7,138.91 335.2,139.05 335.7,139.19 336.2,139.33 336.7,139.47 337.2,139.61 337.7,139.74 338.2,139.88 338.7,140.02 339.2,140.16 339.7,140.30 340.2,140.44 340.7,140.58 341.2,140.72 341.7,140.86 342.2,141.00 342.7,141.15 343.2,141.29 343.7,141.43 344.2,141.57 344.7,141.71 345.2,141.86 345.7,142.00 346.2,142.14 346.7,142.29 347.2,142.44 347.7,142.58 348.2,142.73 348.7,142.87 349.2,143.02 349.7,143.17 350.2,143.32 350.7,143.47 351.2,143.62 351.7,143.77 352.2,143.92 352.7,144.07 353.2,144.22 353.7,144.37 354.2,144.52 354.7,144.67 355.2,144.82 355.7,144.97 356.2,145.12 356.7,145.28 357.2,145.43 357.7,145.58 358.2,145.73 358.7,145.88 359.2,146.03 359.7,146.18 360.2,146.33 360.7,146.48 361.2,146.63 361.7,146.78 362.2,146.93 362.7,147.08 363.2,147.23 363.7,147.38 364.2,147.53 364.7,147.67 365.2,147.82 365.7,147.97 366.2,148.11 366.7,148.26 367.2,148.40 367.7,148.55 368.2,148.69 368.7,148.83 369.2,148.97 369.7,149.12 370.2,149.26 370.7,149.40 371.2,149.54 371.7,149.67 372.2,149.81 372.7,149.95 373.2,150.09 373.7,150.23 374.2,150.37 374.7,150.51 375.2,150.65 375.7,150.78 376.2,150.92 376.7,151.06 377.2,151.19 377.7,151.33 378.2,151.47 378.7,151.60 379.2,151.74 379.7,151.88 380.2,152.01 380.7,152.15 381.2,152.28 381.7,152.42 382.2,152.55 382.7,152.69 383.2,152.82 383.7,152.96 384.2,153.09 384.7,153.22 385.2,153.36 385.7,153.49 386.2,153.62 386.7,153.75 387.2,153.89 387.7,154.02 388.2,154.15 388.7,154.28 389.2,154.41 389.7,154.54 390.2,154.67 390.7,154.80 391.2,154.93 391.7,155.06 392.2,155.19 392.7,155.32 393.2,155.45 393.7,155.58 394.2,155.71 394.7,155.84 395.2,155.97 395.7,156.09 396.2,156.22 396.7,156.35 397.2,156.47 397.7,156.60 398.2,156.73 398.7,156.85 399.2,156.98 399.7,157.10 400.2,157.23 400.7,157.35 401.2,157.48 401.7,157.60 402.2,157.73" stroke="#000000" stroke-dasharray="6.3,2.7"/>
</g>
<path d="M57.60,221.9 v-5.8 M57.60,4.6 v5.8 M74.14,221.9 v-3.0 M74.14,4.6 v3.0 M90.68,221.9 v-3.0 M90.68,4.6 v3.0 M107.22,221.9 v-3.0 M107.22,4.6 v3.0 M123.76,221.9 v-5.8 M123.76,4.6 v5.8 M140.30,221.9 v-3.0 M140.30,4.6 v3.0 M156.84,221.9 v-3.0 M156.84,4.6 v3.0 M173.38,221.9 v-3.0 M173.38,4.6 v3.0 M189.92,221.9 v-5.8 M189.92,4.6 v5.8 M206.46,221.9 v-3.0 M206.46,4.6 v3.0 M223.00,221.9 v-3.0 M223.00,4.6 v3.0 M239.54,221.9 v-3.0 M239.54,4.6 v3.0 M256.08,221.9 v-5.8 M256.08,4.6 v5.8 M272.62,221.9 v-3.0 M272.62,4.6 v3.0 M289.16,221.9 v-3.0 M289.16,4.6 v3.0 M305.70,221.9 v-3.0 M305.70,4.6 v3.0 M322.24,221.9 v-5.8 M322.24,4.6 v5.8 M338.78,221.9 v-3.0 M338.78,4.6 v3.0 M355.32,221.9 v-3.0 M355.32,4.6 v3.0 M371.86,221.9 v-3.0 M371.86,4.6 v3.0 M388.40,221.9 v-5.8 M388.40,4.6 v5.8 M51.6,213.21 h3.0 M402.5,213.21 h-3.0 M51.6,204.52 h3.0 M402.5,204.52 h-3.0 M51.6,195.82 h3.0 M402.5,195.82 h-3.0 M51.6,187.13 h3.0 M402.5,187.13 h-3.0 M51.6,178.44 h5.8 M402.5,178.44 h-5.8 M51.6,169.75 h3.0 M402.5,169.75 h-3.0 M51.6,161.06 h3.0 M402.5,161.06 h-3.0 M51.6,152.36 h3.0 M402.5,152.36 h-3.0 M51.6,143.67 h3.0 M402.5,143.67 h-3.0 M51.6,134.98 h5.8 M402.5,134.98 h-5.8 M51.6,126.29 h3.0 M402.5,126.29 h-3.0 M51.6,117.60 h3.0 M402.5,117.60 h-3.0 M51.6,108.90 h3.0 M402.5,108.90 h-3.0 M51.6,100.21 h3.0 M402.5,100.21 h-3.0 M51.6,91.52 h5.8 M402.5,91.52 h-5.8 M51.6,82.83 h3.0 M402.5,82.83 h-3.0 M51.6,74.14 h3.0 M402.5,74.14 h-3.0 M51.6,65.44 h3.0 M402.5,65.44 h-3.0 M51.6,56.75 h3.0 M402.5,56.75 h-3.0 M51.6,48.06 h5.8 M402.5,48.06 h-5.8 M51.6,39.37 h3.0 M402.5,39.37 h-3.0 M51.6,30.68 h3.0 M402.5,30.68 h-3.0 M51.6,21.98 h3.0 M402.5,21.98 h-3.0 M51.6,13.29 h3.0 M402.5,13.29 h-3.0" stroke="#000" stroke-width="0.95" fill="none"/>
<rect x="51.6" y="4.6" width="350.9" height="217.3" fill="none" stroke="#000" stroke-width="0.95"/>
<path d="M86.2,179.2 H107.9" stroke="#1f77b4" stroke-width="1.9"/>
<path d="M86.2,193.3 H107.9" stroke="#ff7f0e" stroke-width="1.9"/>
<path d="M86.2,207.4 H107.9" stroke="#2ca02c" stroke-width="1.9"/>
<path d="M168.2,179.2 H189.9" stroke="#d62728" stroke-width="1.9"/>
<path d="M168.2,193.3 H189.9" stroke="#9467bd" stroke-width="1.9"/>
<path d="M168.2,207.4 H189.9" stroke="#8c564b" stroke-width="1.9"/>
<path d="M241.2,179.2 H262.9" stroke="#e377c2" stroke-width="1.9"/>
<path d="M241.2,193.3 H262.9" stroke="#7f7f7f" stroke-width="1.9"/>
<path d="M314.2,179.2 H335.9" stroke="#bcbd22" stroke-width="1.9"/>
<path d="M314.2,193.3 H335.9" stroke="#000000" stroke-width="1.9"/>
<g font-family="Liberation Serif, serif" opacity="0.999" stroke="#fff" stroke-width="0.22"><text transform="translate(50.066,237.800) scale(1.07,1)" font-size="14.0" fill="#000">20</text>
<text transform="translate(116.409,237.800) scale(1.07,1)" font-size="14.0" fill="#000">40</text>
<text transform="translate(182.393,237.800) scale(1.07,1)" font-size="14.0" fill="#000">60</text>
<text transform="translate(248.590,237.800) scale(1.07,1)" font-size="14.0" fill="#000">80</text>
<text transform="translate(310.632,237.800) scale(1.07,1)" font-size="14.0" fill="#000">100</text>
<text transform="translate(376.792,237.800) scale(1.07,1)" font-size="14.0" fill="#000">120</text>
<text transform="translate(26.960,9.250) scale(1.07,1)" font-size="14.0" fill="#000">0.3</text>
<text transform="translate(27.202,52.710) scale(1.07,1)" font-size="14.0" fill="#000">0.2</text>
<text transform="translate(27.275,96.170) scale(1.07,1)" font-size="14.0" fill="#000">0.1</text>
<text transform="translate(26.946,139.630) scale(1.07,1)" font-size="14.0" fill="#000">0.0</text>
<text transform="translate(27.275,183.090) scale(1.07,1)" font-size="14.0" fill="#000">0.1</text>
<path d="M17.95,179.04 h8.2" stroke="#000" stroke-width="0.85"/>
<text transform="translate(27.202,226.550) scale(1.07,1)" font-size="14.0" fill="#000">0.2</text>
<path d="M17.87,222.50 h8.2" stroke="#000" stroke-width="0.85"/>
<g stroke-width="0.08">
<text transform="translate(115.395,182.500) scale(1.4,1)" font-size="10.4" fill="#000">Δ</text>
<text transform="translate(125.867,182.500) scale(1.08,1)" font-size="10.4" fill="#000">Ψ</text>
<path d="M135.70,182.70 h5.9" stroke="#000" stroke-width="0.55"/>
<text transform="translate(143.695,184.600) scale(1.2,1)" font-size="8.2" fill="#000">2</text>
<text transform="translate(115.395,196.600) scale(1.4,1)" font-size="10.4" fill="#000">Δ</text>
<text transform="translate(125.867,196.600) scale(1.08,1)" font-size="10.4" fill="#000">Ψ</text>
<path d="M135.70,196.80 h5.9" stroke="#000" stroke-width="0.55"/>
<text transform="translate(143.503,198.700) scale(1.2,1)" font-size="8.2" fill="#000">1</text>
<text transform="translate(115.395,210.700) scale(1.4,1)" font-size="10.4" fill="#000">Δ</text>
<text transform="translate(125.867,210.700) scale(1.08,1)" font-size="10.4" fill="#000">Ψ</text>
<text transform="translate(134.340,212.800) scale(1.2,1)" font-size="8.2" fill="#000">0</text>
<text transform="translate(197.295,182.500) scale(1.4,1)" font-size="10.4" fill="#000">Δ</text>
<text transform="translate(207.767,182.500) scale(1.08,1)" font-size="10.4" fill="#000">Ψ</text>
<text transform="translate(216.103,184.600) scale(1.2,1)" font-size="8.2" fill="#000">1</text>
<text transform="translate(197.295,196.600) scale(1.4,1)" font-size="10.4" fill="#000">Δ</text>
<text transform="translate(207.767,196.600) scale(1.08,1)" font-size="10.4" fill="#000">Ψ</text>
<text transform="translate(216.295,198.700) scale(1.2,1)" font-size="8.2" fill="#000">2</text>
<text transform="translate(197.295,210.700) scale(1.4,1)" font-size="10.4" fill="#000">Δ</text>
<text transform="translate(207.767,210.700) scale(1.08,1)" font-size="10.4" fill="#000">Ψ</text>
<text transform="translate(216.197,212.800) scale(1.2,1)" font-size="8.2" fill="#000">3</text>
<text transform="translate(270.495,182.500) scale(1.4,1)" font-size="10.4" fill="#000">Δ</text>
<text transform="translate(280.967,182.500) scale(1.08,1)" font-size="10.4" fill="#000">Ψ</text>
<text transform="translate(289.421,184.600) scale(1.2,1)" font-size="8.2" fill="#000">4</text>
<text transform="translate(270.495,196.600) scale(1.4,1)" font-size="10.4" fill="#000">Δ</text>
<text transform="translate(280.967,196.600) scale(1.08,1)" font-size="10.4" fill="#000">Ψ</text>
<text transform="translate(289.375,198.700) scale(1.2,1)" font-size="8.2" fill="#000">6</text>
<text transform="translate(343.395,182.500) scale(1.4,1)" font-size="10.4" fill="#000">Δ</text>
<text transform="translate(353.867,182.500) scale(1.08,1)" font-size="10.4" fill="#000">Ψ</text>
<text transform="translate(362.157,184.600) scale(1.2,1)" font-size="8.2" fill="#000">7</text>
<text transform="translate(343.395,196.600) scale(1.4,1)" font-size="10.4" fill="#000">Δ</text>
<text transform="translate(353.867,196.600) scale(1.08,1)" font-size="10.4" fill="#000">Ψ</text>
<text transform="translate(362.988,198.800) scale(1.32,1)" font-size="8.2" fill="#000">N</text>
<text transform="translate(371.278,198.800) scale(1.32,1)" font-size="8.2" fill="#000">V</text>
<text transform="translate(379.688,198.800) scale(1.32,1)" font-size="8.2" fill="#000">N</text>
<text transform="translate(387.788,198.800) scale(1.32,1)" font-size="8.2" fill="#000">L</text>
</g>
<text transform="translate(208.332,253.600) scale(1.0,1)" font-size="15.0" font-style="italic" fill="#000">f</text>
<text transform="translate(225.289,253.600) scale(0.95,1)" font-size="15.0" fill="#000">Hz</text>
<text transform="translate(221.64,255.0) scale(0.95,1.2)" font-size="15.0">[</text>
<text transform="translate(242.69,255.0) scale(0.95,1.2)" font-size="15.0">]</text>
<g transform="translate(10.6,125.0) rotate(-90)"><text transform="translate(-0.443,0.000) scale(1.235,1)" font-size="15.8" fill="#000">Δ</text><text transform="translate(12.558,0.000) scale(0.9,1)" font-size="15.8" fill="#000">Ψ</text></g></g>
</svg>
</body></html>
